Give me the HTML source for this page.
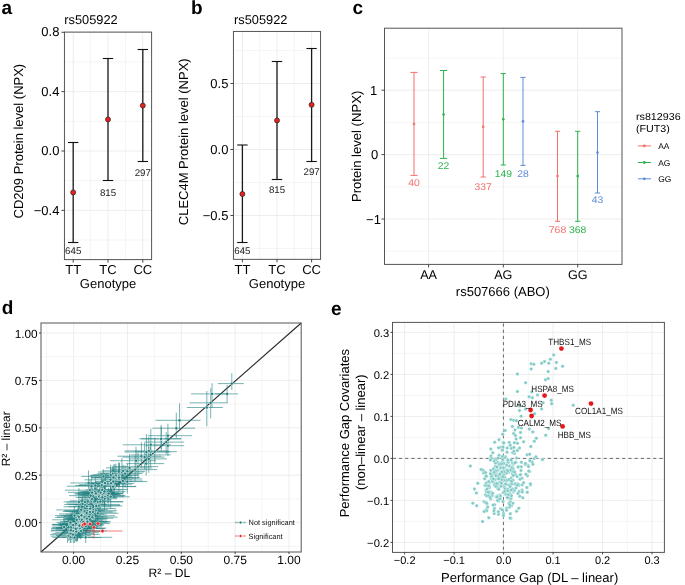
<!DOCTYPE html>
<html><head><meta charset="utf-8"><style>
html,body{margin:0;padding:0;background:#fff;}
body{width:685px;height:585px;overflow:hidden;}
svg{display:block;font-family:"Liberation Sans", sans-serif;will-change:transform;text-rendering:geometricPrecision;}
</style></head><body>
<svg width="685" height="585" viewBox="0 0 685 585">
<rect width="685" height="585" fill="#fff"/>
<text transform="translate(1.50,13.90) scale(1.0,1)" text-anchor="start" font-size="19" fill="#000" font-weight="bold">a</text>
<text transform="translate(64.30,23.50) scale(1.0,1)" text-anchor="start" font-size="12.8" fill="#000">rs505922</text>
<line x1="90.60" y1="32.10" x2="90.60" y2="259.60" stroke="#ebebeb" stroke-width="0.5"/>
<line x1="125.50" y1="32.10" x2="125.50" y2="259.60" stroke="#ebebeb" stroke-width="0.5"/>
<line x1="64.45" y1="61.96" x2="151.60" y2="61.96" stroke="#ebebeb" stroke-width="0.5"/>
<line x1="64.45" y1="121.32" x2="151.60" y2="121.32" stroke="#ebebeb" stroke-width="0.5"/>
<line x1="64.45" y1="180.68" x2="151.60" y2="180.68" stroke="#ebebeb" stroke-width="0.5"/>
<line x1="64.45" y1="240.04" x2="151.60" y2="240.04" stroke="#ebebeb" stroke-width="0.5"/>
<line x1="73.20" y1="32.10" x2="73.20" y2="259.60" stroke="#ebebeb" stroke-width="0.9"/>
<line x1="108.00" y1="32.10" x2="108.00" y2="259.60" stroke="#ebebeb" stroke-width="0.9"/>
<line x1="142.80" y1="32.10" x2="142.80" y2="259.60" stroke="#ebebeb" stroke-width="0.9"/>
<line x1="64.45" y1="32.28" x2="151.60" y2="32.28" stroke="#ebebeb" stroke-width="0.9"/>
<line x1="64.45" y1="91.64" x2="151.60" y2="91.64" stroke="#ebebeb" stroke-width="0.9"/>
<line x1="64.45" y1="151.00" x2="151.60" y2="151.00" stroke="#ebebeb" stroke-width="0.9"/>
<line x1="64.45" y1="210.36" x2="151.60" y2="210.36" stroke="#ebebeb" stroke-width="0.9"/>
<line x1="73.20" y1="142.50" x2="73.20" y2="242.50" stroke="#1a1a1a" stroke-width="1.3"/>
<line x1="68.00" y1="142.50" x2="78.40" y2="142.50" stroke="#111" stroke-width="1.1"/>
<line x1="68.00" y1="242.50" x2="78.40" y2="242.50" stroke="#111" stroke-width="1.1"/>
<circle cx="73.20" cy="192.40" r="2.5" fill="#e8221c" stroke="#222" stroke-width="0.7"/>
<text transform="translate(73.20,254.20) scale(1.0,1)" text-anchor="middle" font-size="9.7" fill="#222">645</text>
<line x1="108.00" y1="58.50" x2="108.00" y2="180.50" stroke="#1a1a1a" stroke-width="1.3"/>
<line x1="102.80" y1="58.50" x2="113.20" y2="58.50" stroke="#111" stroke-width="1.1"/>
<line x1="102.80" y1="180.50" x2="113.20" y2="180.50" stroke="#111" stroke-width="1.1"/>
<circle cx="108.00" cy="119.40" r="2.5" fill="#e8221c" stroke="#222" stroke-width="0.7"/>
<text transform="translate(108.00,195.60) scale(1.0,1)" text-anchor="middle" font-size="9.7" fill="#222">815</text>
<line x1="142.80" y1="49.50" x2="142.80" y2="161.50" stroke="#1a1a1a" stroke-width="1.3"/>
<line x1="137.60" y1="49.50" x2="148.00" y2="49.50" stroke="#111" stroke-width="1.1"/>
<line x1="137.60" y1="161.50" x2="148.00" y2="161.50" stroke="#111" stroke-width="1.1"/>
<circle cx="142.80" cy="105.60" r="2.5" fill="#e8221c" stroke="#222" stroke-width="0.7"/>
<text transform="translate(142.80,176.00) scale(1.0,1)" text-anchor="middle" font-size="9.7" fill="#222">297</text>
<rect x="64.45" y="32.10" width="87.15" height="227.50" fill="none" stroke="#555" stroke-width="1.0"/>
<line x1="61.45" y1="32.28" x2="64.45" y2="32.28" stroke="#333" stroke-width="0.9"/>
<text transform="translate(59.45,36.49) scale(1.0,1)" text-anchor="end" font-size="13.0" fill="#000">0.8</text>
<line x1="61.45" y1="91.64" x2="64.45" y2="91.64" stroke="#333" stroke-width="0.9"/>
<text transform="translate(59.45,95.85) scale(1.0,1)" text-anchor="end" font-size="13.0" fill="#000">0.4</text>
<line x1="61.45" y1="151.00" x2="64.45" y2="151.00" stroke="#333" stroke-width="0.9"/>
<text transform="translate(59.45,155.22) scale(1.0,1)" text-anchor="end" font-size="13.0" fill="#000">0.0</text>
<line x1="61.45" y1="210.36" x2="64.45" y2="210.36" stroke="#333" stroke-width="0.9"/>
<text transform="translate(59.45,214.58) scale(1.0,1)" text-anchor="end" font-size="13.0" fill="#000">−0.4</text>
<line x1="73.20" y1="259.60" x2="73.20" y2="262.60" stroke="#333" stroke-width="0.9"/>
<text transform="translate(73.20,274.00) scale(1.0,1)" text-anchor="middle" font-size="13.0" fill="#000">TT</text>
<line x1="108.00" y1="259.60" x2="108.00" y2="262.60" stroke="#333" stroke-width="0.9"/>
<text transform="translate(108.00,274.00) scale(1.0,1)" text-anchor="middle" font-size="13.0" fill="#000">TC</text>
<line x1="142.80" y1="259.60" x2="142.80" y2="262.60" stroke="#333" stroke-width="0.9"/>
<text transform="translate(142.80,274.00) scale(1.0,1)" text-anchor="middle" font-size="13.0" fill="#000">CC</text>
<text transform="translate(108.03,288.30) scale(1.0,1)" text-anchor="middle" font-size="13.0" fill="#000">Genotype</text>
<text transform="translate(23.10,141.10) rotate(-90) scale(1,1.0)" text-anchor="middle" font-size="13.0" fill="#000">CD209 Protein level (NPX)</text>
<text transform="translate(191.05,14.10) scale(1.0,1)" text-anchor="start" font-size="19" fill="#000" font-weight="bold">b</text>
<text transform="translate(234.00,23.50) scale(1.0,1)" text-anchor="start" font-size="12.8" fill="#000">rs505922</text>
<line x1="259.70" y1="31.45" x2="259.70" y2="259.35" stroke="#ebebeb" stroke-width="0.5"/>
<line x1="294.30" y1="31.45" x2="294.30" y2="259.35" stroke="#ebebeb" stroke-width="0.5"/>
<line x1="233.45" y1="50.50" x2="320.55" y2="50.50" stroke="#ebebeb" stroke-width="0.5"/>
<line x1="233.45" y1="116.50" x2="320.55" y2="116.50" stroke="#ebebeb" stroke-width="0.5"/>
<line x1="233.45" y1="182.50" x2="320.55" y2="182.50" stroke="#ebebeb" stroke-width="0.5"/>
<line x1="233.45" y1="248.50" x2="320.55" y2="248.50" stroke="#ebebeb" stroke-width="0.5"/>
<line x1="242.40" y1="31.45" x2="242.40" y2="259.35" stroke="#ebebeb" stroke-width="0.9"/>
<line x1="277.00" y1="31.45" x2="277.00" y2="259.35" stroke="#ebebeb" stroke-width="0.9"/>
<line x1="311.60" y1="31.45" x2="311.60" y2="259.35" stroke="#ebebeb" stroke-width="0.9"/>
<line x1="233.45" y1="83.50" x2="320.55" y2="83.50" stroke="#ebebeb" stroke-width="0.9"/>
<line x1="233.45" y1="149.50" x2="320.55" y2="149.50" stroke="#ebebeb" stroke-width="0.9"/>
<line x1="233.45" y1="215.50" x2="320.55" y2="215.50" stroke="#ebebeb" stroke-width="0.9"/>
<line x1="242.40" y1="145.00" x2="242.40" y2="242.50" stroke="#1a1a1a" stroke-width="1.3"/>
<line x1="237.20" y1="145.00" x2="247.60" y2="145.00" stroke="#111" stroke-width="1.1"/>
<line x1="237.20" y1="242.50" x2="247.60" y2="242.50" stroke="#111" stroke-width="1.1"/>
<circle cx="242.40" cy="194.00" r="2.5" fill="#e8221c" stroke="#222" stroke-width="0.7"/>
<text transform="translate(242.40,254.40) scale(1.0,1)" text-anchor="middle" font-size="9.7" fill="#222">645</text>
<line x1="277.00" y1="61.50" x2="277.00" y2="179.50" stroke="#1a1a1a" stroke-width="1.3"/>
<line x1="271.80" y1="61.50" x2="282.20" y2="61.50" stroke="#111" stroke-width="1.1"/>
<line x1="271.80" y1="179.50" x2="282.20" y2="179.50" stroke="#111" stroke-width="1.1"/>
<circle cx="277.00" cy="120.40" r="2.5" fill="#e8221c" stroke="#222" stroke-width="0.7"/>
<text transform="translate(277.00,193.00) scale(1.0,1)" text-anchor="middle" font-size="9.7" fill="#222">815</text>
<line x1="311.60" y1="48.50" x2="311.60" y2="161.50" stroke="#1a1a1a" stroke-width="1.3"/>
<line x1="306.40" y1="48.50" x2="316.80" y2="48.50" stroke="#111" stroke-width="1.1"/>
<line x1="306.40" y1="161.50" x2="316.80" y2="161.50" stroke="#111" stroke-width="1.1"/>
<circle cx="311.60" cy="104.80" r="2.5" fill="#e8221c" stroke="#222" stroke-width="0.7"/>
<text transform="translate(311.60,175.00) scale(1.0,1)" text-anchor="middle" font-size="9.7" fill="#222">297</text>
<rect x="233.45" y="31.45" width="87.10" height="227.90" fill="none" stroke="#555" stroke-width="1.0"/>
<line x1="230.45" y1="83.50" x2="233.45" y2="83.50" stroke="#333" stroke-width="0.9"/>
<text transform="translate(228.45,87.71) scale(1.0,1)" text-anchor="end" font-size="13.0" fill="#000">0.5</text>
<line x1="230.45" y1="149.50" x2="233.45" y2="149.50" stroke="#333" stroke-width="0.9"/>
<text transform="translate(228.45,153.72) scale(1.0,1)" text-anchor="end" font-size="13.0" fill="#000">0.0</text>
<line x1="230.45" y1="215.50" x2="233.45" y2="215.50" stroke="#333" stroke-width="0.9"/>
<text transform="translate(228.45,219.72) scale(1.0,1)" text-anchor="end" font-size="13.0" fill="#000">−0.5</text>
<line x1="242.40" y1="259.35" x2="242.40" y2="262.35" stroke="#333" stroke-width="0.9"/>
<text transform="translate(242.40,274.00) scale(1.0,1)" text-anchor="middle" font-size="13.0" fill="#000">TT</text>
<line x1="277.00" y1="259.35" x2="277.00" y2="262.35" stroke="#333" stroke-width="0.9"/>
<text transform="translate(277.00,274.00) scale(1.0,1)" text-anchor="middle" font-size="13.0" fill="#000">TC</text>
<line x1="311.60" y1="259.35" x2="311.60" y2="262.35" stroke="#333" stroke-width="0.9"/>
<text transform="translate(311.60,274.00) scale(1.0,1)" text-anchor="middle" font-size="13.0" fill="#000">CC</text>
<text transform="translate(277.00,288.30) scale(1.0,1)" text-anchor="middle" font-size="13.0" fill="#000">Genotype</text>
<text transform="translate(187.60,141.80) rotate(-90) scale(1,1.0)" text-anchor="middle" font-size="13.0" fill="#000">CLEC4M Protein level (NPX)</text>
<text transform="translate(352.50,14.00) scale(1.0,1)" text-anchor="start" font-size="19" fill="#000" font-weight="bold">c</text>
<line x1="384.50" y1="58.00" x2="622.00" y2="58.00" stroke="#ebebeb" stroke-width="0.5"/>
<line x1="384.50" y1="122.40" x2="622.00" y2="122.40" stroke="#ebebeb" stroke-width="0.5"/>
<line x1="384.50" y1="186.80" x2="622.00" y2="186.80" stroke="#ebebeb" stroke-width="0.5"/>
<line x1="384.50" y1="251.20" x2="622.00" y2="251.20" stroke="#ebebeb" stroke-width="0.5"/>
<line x1="428.60" y1="28.20" x2="428.60" y2="264.40" stroke="#ebebeb" stroke-width="0.9"/>
<line x1="503.30" y1="28.20" x2="503.30" y2="264.40" stroke="#ebebeb" stroke-width="0.9"/>
<line x1="577.70" y1="28.20" x2="577.70" y2="264.40" stroke="#ebebeb" stroke-width="0.9"/>
<line x1="384.50" y1="90.20" x2="622.00" y2="90.20" stroke="#ebebeb" stroke-width="0.9"/>
<line x1="384.50" y1="154.60" x2="622.00" y2="154.60" stroke="#ebebeb" stroke-width="0.9"/>
<line x1="384.50" y1="219.00" x2="622.00" y2="219.00" stroke="#ebebeb" stroke-width="0.9"/>
<line x1="414.00" y1="72.40" x2="414.00" y2="175.40" stroke="#F3716C" stroke-width="1.0"/>
<line x1="410.40" y1="72.40" x2="417.60" y2="72.40" stroke="#F3716C" stroke-width="1.0"/>
<line x1="410.40" y1="175.40" x2="417.60" y2="175.40" stroke="#F3716C" stroke-width="1.0"/>
<circle cx="414.00" cy="124.10" r="1.3" fill="#F3716C" stroke="none" stroke-width="0"/>
<text transform="translate(414.00,186.40) scale(1.06,1)" text-anchor="middle" font-size="9.8" fill="#F3716C">40</text>
<line x1="443.60" y1="70.50" x2="443.60" y2="158.40" stroke="#2DB34A" stroke-width="1.0"/>
<line x1="440.00" y1="70.50" x2="447.20" y2="70.50" stroke="#2DB34A" stroke-width="1.0"/>
<line x1="440.00" y1="158.40" x2="447.20" y2="158.40" stroke="#2DB34A" stroke-width="1.0"/>
<circle cx="443.60" cy="114.50" r="1.3" fill="#2DB34A" stroke="none" stroke-width="0"/>
<text transform="translate(443.60,169.40) scale(1.06,1)" text-anchor="middle" font-size="9.8" fill="#2DB34A">22</text>
<line x1="483.20" y1="77.00" x2="483.20" y2="177.00" stroke="#F3716C" stroke-width="1.0"/>
<line x1="480.60" y1="77.00" x2="485.80" y2="77.00" stroke="#F3716C" stroke-width="1.0"/>
<line x1="480.60" y1="177.00" x2="485.80" y2="177.00" stroke="#F3716C" stroke-width="1.0"/>
<circle cx="483.20" cy="126.80" r="1.3" fill="#F3716C" stroke="none" stroke-width="0"/>
<text transform="translate(483.20,190.40) scale(1.06,1)" text-anchor="middle" font-size="9.8" fill="#F3716C">337</text>
<line x1="503.30" y1="73.60" x2="503.30" y2="165.00" stroke="#2DB34A" stroke-width="1.0"/>
<line x1="500.70" y1="73.60" x2="505.90" y2="73.60" stroke="#2DB34A" stroke-width="1.0"/>
<line x1="500.70" y1="165.00" x2="505.90" y2="165.00" stroke="#2DB34A" stroke-width="1.0"/>
<circle cx="503.30" cy="119.20" r="1.3" fill="#2DB34A" stroke="none" stroke-width="0"/>
<text transform="translate(503.30,177.00) scale(1.06,1)" text-anchor="middle" font-size="9.8" fill="#2DB34A">149</text>
<line x1="523.00" y1="77.40" x2="523.00" y2="165.40" stroke="#5F8BDA" stroke-width="1.0"/>
<line x1="520.40" y1="77.40" x2="525.60" y2="77.40" stroke="#5F8BDA" stroke-width="1.0"/>
<line x1="520.40" y1="165.40" x2="525.60" y2="165.40" stroke="#5F8BDA" stroke-width="1.0"/>
<circle cx="523.00" cy="121.20" r="1.3" fill="#5F8BDA" stroke="none" stroke-width="0"/>
<text transform="translate(523.00,177.00) scale(1.06,1)" text-anchor="middle" font-size="9.8" fill="#5F8BDA">28</text>
<line x1="557.50" y1="131.30" x2="557.50" y2="221.30" stroke="#F3716C" stroke-width="1.0"/>
<line x1="554.90" y1="131.30" x2="560.10" y2="131.30" stroke="#F3716C" stroke-width="1.0"/>
<line x1="554.90" y1="221.30" x2="560.10" y2="221.30" stroke="#F3716C" stroke-width="1.0"/>
<circle cx="557.50" cy="176.10" r="1.3" fill="#F3716C" stroke="none" stroke-width="0"/>
<text transform="translate(557.50,232.60) scale(1.06,1)" text-anchor="middle" font-size="9.8" fill="#F3716C">768</text>
<line x1="577.70" y1="131.30" x2="577.70" y2="221.30" stroke="#2DB34A" stroke-width="1.0"/>
<line x1="575.10" y1="131.30" x2="580.30" y2="131.30" stroke="#2DB34A" stroke-width="1.0"/>
<line x1="575.10" y1="221.30" x2="580.30" y2="221.30" stroke="#2DB34A" stroke-width="1.0"/>
<circle cx="577.70" cy="176.10" r="1.3" fill="#2DB34A" stroke="none" stroke-width="0"/>
<text transform="translate(577.70,232.60) scale(1.06,1)" text-anchor="middle" font-size="9.8" fill="#2DB34A">368</text>
<line x1="597.50" y1="111.70" x2="597.50" y2="193.00" stroke="#5F8BDA" stroke-width="1.0"/>
<line x1="594.90" y1="111.70" x2="600.10" y2="111.70" stroke="#5F8BDA" stroke-width="1.0"/>
<line x1="594.90" y1="193.00" x2="600.10" y2="193.00" stroke="#5F8BDA" stroke-width="1.0"/>
<circle cx="597.50" cy="152.60" r="1.3" fill="#5F8BDA" stroke="none" stroke-width="0"/>
<text transform="translate(597.50,202.90) scale(1.06,1)" text-anchor="middle" font-size="9.8" fill="#5F8BDA">43</text>
<rect x="384.50" y="28.20" width="237.50" height="236.20" fill="none" stroke="#555" stroke-width="1.0"/>
<line x1="381.50" y1="90.20" x2="384.50" y2="90.20" stroke="#333" stroke-width="0.9"/>
<line x1="381.50" y1="154.60" x2="384.50" y2="154.60" stroke="#333" stroke-width="0.9"/>
<line x1="381.50" y1="219.00" x2="384.50" y2="219.00" stroke="#333" stroke-width="0.9"/>
<text transform="translate(370.11,94.81) scale(1.0,1)" text-anchor="start" font-size="13.0" fill="#000">1</text>
<text transform="translate(370.89,159.22) scale(1.0,1)" text-anchor="start" font-size="13.0" fill="#000">0</text>
<text transform="translate(366.04,223.62) scale(1.0,1)" text-anchor="start" font-size="13.0" fill="#000">−1</text>
<line x1="428.60" y1="264.40" x2="428.60" y2="267.40" stroke="#333" stroke-width="0.9"/>
<text transform="translate(428.60,279.20) scale(1.0,1)" text-anchor="middle" font-size="12.6" fill="#000">AA</text>
<line x1="503.30" y1="264.40" x2="503.30" y2="267.40" stroke="#333" stroke-width="0.9"/>
<text transform="translate(503.30,279.20) scale(1.0,1)" text-anchor="middle" font-size="12.6" fill="#000">AG</text>
<line x1="577.70" y1="264.40" x2="577.70" y2="267.40" stroke="#333" stroke-width="0.9"/>
<text transform="translate(577.70,279.20) scale(1.0,1)" text-anchor="middle" font-size="12.6" fill="#000">GG</text>
<text transform="translate(502.80,296.20) scale(1.0,1)" text-anchor="middle" font-size="13.0" fill="#000">rs507666 (ABO)</text>
<text transform="translate(361.20,146.40) rotate(-90) scale(1,1.0)" text-anchor="middle" font-size="13.1" fill="#000">Protein level (NPX)</text>
<text transform="translate(636.00,120.10) scale(1.05,1)" text-anchor="start" font-size="10.2" fill="#000">rs812936</text>
<text transform="translate(636.00,131.50) scale(1.05,1)" text-anchor="start" font-size="10.2" fill="#000">(FUT3)</text>
<line x1="637.90" y1="145.90" x2="651.00" y2="145.90" stroke="#F3716C" stroke-width="1.0"/>
<circle cx="644.30" cy="145.90" r="1.4" fill="#F3716C" stroke="none" stroke-width="0"/>
<text transform="translate(658.20,149.00) scale(1.0,1)" text-anchor="start" font-size="8.4" fill="#000">AA</text>
<line x1="637.90" y1="162.50" x2="651.00" y2="162.50" stroke="#2DB34A" stroke-width="1.0"/>
<circle cx="644.30" cy="162.50" r="1.4" fill="#2DB34A" stroke="none" stroke-width="0"/>
<text transform="translate(658.20,165.60) scale(1.0,1)" text-anchor="start" font-size="8.4" fill="#000">AG</text>
<line x1="637.90" y1="178.80" x2="651.00" y2="178.80" stroke="#5F8BDA" stroke-width="1.0"/>
<circle cx="644.30" cy="178.80" r="1.4" fill="#5F8BDA" stroke="none" stroke-width="0"/>
<text transform="translate(658.20,181.90) scale(1.0,1)" text-anchor="start" font-size="8.4" fill="#000">GG</text>
<text transform="translate(1.67,314.10) scale(1.0,1)" text-anchor="start" font-size="19" fill="#000" font-weight="bold">d</text>
<line x1="46.67" y1="323.00" x2="46.67" y2="552.00" stroke="#ebebeb" stroke-width="0.5"/>
<line x1="100.52" y1="323.00" x2="100.52" y2="552.00" stroke="#ebebeb" stroke-width="0.5"/>
<line x1="154.38" y1="323.00" x2="154.38" y2="552.00" stroke="#ebebeb" stroke-width="0.5"/>
<line x1="208.22" y1="323.00" x2="208.22" y2="552.00" stroke="#ebebeb" stroke-width="0.5"/>
<line x1="262.07" y1="323.00" x2="262.07" y2="552.00" stroke="#ebebeb" stroke-width="0.5"/>
<line x1="41.00" y1="546.30" x2="301.20" y2="546.30" stroke="#ebebeb" stroke-width="0.5"/>
<line x1="41.00" y1="498.90" x2="301.20" y2="498.90" stroke="#ebebeb" stroke-width="0.5"/>
<line x1="41.00" y1="451.50" x2="301.20" y2="451.50" stroke="#ebebeb" stroke-width="0.5"/>
<line x1="41.00" y1="404.10" x2="301.20" y2="404.10" stroke="#ebebeb" stroke-width="0.5"/>
<line x1="41.00" y1="356.70" x2="301.20" y2="356.70" stroke="#ebebeb" stroke-width="0.5"/>
<line x1="73.60" y1="323.00" x2="73.60" y2="552.00" stroke="#ebebeb" stroke-width="0.9"/>
<line x1="127.45" y1="323.00" x2="127.45" y2="552.00" stroke="#ebebeb" stroke-width="0.9"/>
<line x1="181.30" y1="323.00" x2="181.30" y2="552.00" stroke="#ebebeb" stroke-width="0.9"/>
<line x1="235.15" y1="323.00" x2="235.15" y2="552.00" stroke="#ebebeb" stroke-width="0.9"/>
<line x1="289.00" y1="323.00" x2="289.00" y2="552.00" stroke="#ebebeb" stroke-width="0.9"/>
<line x1="41.00" y1="522.60" x2="301.20" y2="522.60" stroke="#ebebeb" stroke-width="0.9"/>
<line x1="41.00" y1="475.20" x2="301.20" y2="475.20" stroke="#ebebeb" stroke-width="0.9"/>
<line x1="41.00" y1="427.80" x2="301.20" y2="427.80" stroke="#ebebeb" stroke-width="0.9"/>
<line x1="41.00" y1="380.40" x2="301.20" y2="380.40" stroke="#ebebeb" stroke-width="0.9"/>
<line x1="41.00" y1="333.00" x2="301.20" y2="333.00" stroke="#ebebeb" stroke-width="0.9"/>
<line x1="41.00" y1="552.00" x2="301.20" y2="323.00" stroke="#2a2a2a" stroke-width="1.15"/>
<line x1="217.80" y1="383.60" x2="243.80" y2="383.60" stroke="rgba(35,130,130,0.72)" stroke-width="0.85"/>
<line x1="231.80" y1="373.10" x2="231.80" y2="389.80" stroke="rgba(35,130,130,0.72)" stroke-width="0.85"/>
<line x1="215.10" y1="393.90" x2="238.10" y2="393.90" stroke="rgba(35,130,130,0.72)" stroke-width="0.85"/>
<line x1="227.10" y1="384.90" x2="227.10" y2="402.90" stroke="rgba(35,130,130,0.72)" stroke-width="0.85"/>
<line x1="191.00" y1="393.90" x2="228.00" y2="393.90" stroke="rgba(35,130,130,0.72)" stroke-width="0.85"/>
<line x1="212.00" y1="383.20" x2="212.00" y2="407.90" stroke="rgba(35,130,130,0.72)" stroke-width="0.85"/>
<line x1="189.70" y1="402.80" x2="227.70" y2="402.80" stroke="rgba(35,130,130,0.72)" stroke-width="0.85"/>
<line x1="210.70" y1="388.30" x2="210.70" y2="418.40" stroke="rgba(35,130,130,0.72)" stroke-width="0.85"/>
<line x1="186.80" y1="407.50" x2="222.80" y2="407.50" stroke="rgba(35,130,130,0.72)" stroke-width="0.85"/>
<line x1="206.80" y1="391.00" x2="206.80" y2="426.30" stroke="rgba(35,130,130,0.72)" stroke-width="0.85"/>
<line x1="155.50" y1="420.30" x2="200.50" y2="420.30" stroke="rgba(35,130,130,0.72)" stroke-width="0.85"/>
<line x1="179.50" y1="403.30" x2="179.50" y2="428.70" stroke="rgba(35,130,130,0.72)" stroke-width="0.85"/>
<line x1="152.30" y1="428.20" x2="195.30" y2="428.20" stroke="rgba(35,130,130,0.72)" stroke-width="0.85"/>
<line x1="176.30" y1="412.70" x2="176.30" y2="438.20" stroke="rgba(35,130,130,0.72)" stroke-width="0.85"/>
<line x1="147.90" y1="435.70" x2="191.90" y2="435.70" stroke="rgba(35,130,130,0.72)" stroke-width="0.85"/>
<line x1="167.90" y1="423.70" x2="167.90" y2="447.70" stroke="rgba(35,130,130,0.72)" stroke-width="0.85"/>
<line x1="139.30" y1="438.70" x2="181.30" y2="438.70" stroke="rgba(35,130,130,0.72)" stroke-width="0.85"/>
<line x1="161.30" y1="426.70" x2="161.30" y2="450.70" stroke="rgba(35,130,130,0.72)" stroke-width="0.85"/>
<line x1="141.10" y1="438.90" x2="181.10" y2="438.90" stroke="rgba(35,130,130,0.72)" stroke-width="0.85"/>
<line x1="161.10" y1="424.90" x2="161.10" y2="448.90" stroke="rgba(35,130,130,0.72)" stroke-width="0.85"/>
<line x1="144.20" y1="442.10" x2="184.20" y2="442.10" stroke="rgba(35,130,130,0.72)" stroke-width="0.85"/>
<line x1="166.20" y1="432.10" x2="166.20" y2="454.10" stroke="rgba(35,130,130,0.72)" stroke-width="0.85"/>
<line x1="145.90" y1="445.70" x2="183.90" y2="445.70" stroke="rgba(35,130,130,0.72)" stroke-width="0.85"/>
<line x1="167.90" y1="433.70" x2="167.90" y2="455.70" stroke="rgba(35,130,130,0.72)" stroke-width="0.85"/>
<line x1="122.80" y1="444.80" x2="170.80" y2="444.80" stroke="rgba(35,130,130,0.72)" stroke-width="0.85"/>
<line x1="150.80" y1="428.80" x2="150.80" y2="454.80" stroke="rgba(35,130,130,0.72)" stroke-width="0.85"/>
<line x1="134.80" y1="451.70" x2="176.80" y2="451.70" stroke="rgba(35,130,130,0.72)" stroke-width="0.85"/>
<line x1="154.80" y1="437.70" x2="154.80" y2="463.70" stroke="rgba(35,130,130,0.72)" stroke-width="0.85"/>
<line x1="124.80" y1="450.90" x2="168.80" y2="450.90" stroke="rgba(35,130,130,0.72)" stroke-width="0.85"/>
<line x1="148.80" y1="436.90" x2="148.80" y2="462.90" stroke="rgba(35,130,130,0.72)" stroke-width="0.85"/>
<line x1="124.40" y1="452.00" x2="170.40" y2="452.00" stroke="rgba(35,130,130,0.72)" stroke-width="0.85"/>
<line x1="146.40" y1="434.00" x2="146.40" y2="462.00" stroke="rgba(35,130,130,0.72)" stroke-width="0.85"/>
<line x1="130.60" y1="454.90" x2="170.60" y2="454.90" stroke="rgba(35,130,130,0.72)" stroke-width="0.85"/>
<line x1="150.60" y1="442.90" x2="150.60" y2="466.90" stroke="rgba(35,130,130,0.72)" stroke-width="0.85"/>
<line x1="117.40" y1="456.20" x2="161.40" y2="456.20" stroke="rgba(35,130,130,0.72)" stroke-width="0.85"/>
<line x1="141.40" y1="442.20" x2="141.40" y2="468.20" stroke="rgba(35,130,130,0.72)" stroke-width="0.85"/>
<line x1="122.60" y1="457.10" x2="164.60" y2="457.10" stroke="rgba(35,130,130,0.72)" stroke-width="0.85"/>
<line x1="144.60" y1="443.10" x2="144.60" y2="469.10" stroke="rgba(35,130,130,0.72)" stroke-width="0.85"/>
<line x1="128.80" y1="458.90" x2="166.80" y2="458.90" stroke="rgba(35,130,130,0.72)" stroke-width="0.85"/>
<line x1="148.80" y1="446.90" x2="148.80" y2="472.90" stroke="rgba(35,130,130,0.72)" stroke-width="0.85"/>
<line x1="110.00" y1="460.70" x2="156.00" y2="460.70" stroke="rgba(35,130,130,0.72)" stroke-width="0.85"/>
<line x1="136.00" y1="446.70" x2="136.00" y2="472.70" stroke="rgba(35,130,130,0.72)" stroke-width="0.85"/>
<line x1="126.20" y1="463.60" x2="164.20" y2="463.60" stroke="rgba(35,130,130,0.72)" stroke-width="0.85"/>
<line x1="146.20" y1="451.60" x2="146.20" y2="475.60" stroke="rgba(35,130,130,0.72)" stroke-width="0.85"/>
<line x1="114.00" y1="466.60" x2="158.00" y2="466.60" stroke="rgba(35,130,130,0.72)" stroke-width="0.85"/>
<line x1="138.00" y1="452.60" x2="138.00" y2="478.60" stroke="rgba(35,130,130,0.72)" stroke-width="0.85"/>
<line x1="111.10" y1="469.60" x2="157.10" y2="469.60" stroke="rgba(35,130,130,0.72)" stroke-width="0.85"/>
<line x1="135.10" y1="455.60" x2="135.10" y2="481.60" stroke="rgba(35,130,130,0.72)" stroke-width="0.85"/>
<line x1="97.90" y1="472.00" x2="143.90" y2="472.00" stroke="rgba(35,130,130,0.72)" stroke-width="0.85"/>
<line x1="121.90" y1="458.00" x2="121.90" y2="484.00" stroke="rgba(35,130,130,0.72)" stroke-width="0.85"/>
<line x1="89.90" y1="475.60" x2="137.90" y2="475.60" stroke="rgba(35,130,130,0.72)" stroke-width="0.85"/>
<line x1="115.90" y1="463.60" x2="115.90" y2="489.60" stroke="rgba(35,130,130,0.72)" stroke-width="0.85"/>
<line x1="93.30" y1="474.80" x2="139.30" y2="474.80" stroke="rgba(35,130,130,0.72)" stroke-width="0.85"/>
<line x1="119.30" y1="462.80" x2="119.30" y2="486.80" stroke="rgba(35,130,130,0.72)" stroke-width="0.85"/>
<line x1="90.70" y1="478.00" x2="136.70" y2="478.00" stroke="rgba(35,130,130,0.72)" stroke-width="0.85"/>
<line x1="114.70" y1="464.00" x2="114.70" y2="490.00" stroke="rgba(35,130,130,0.72)" stroke-width="0.85"/>
<line x1="84.50" y1="479.80" x2="132.50" y2="479.80" stroke="rgba(35,130,130,0.72)" stroke-width="0.85"/>
<line x1="110.50" y1="467.80" x2="110.50" y2="491.80" stroke="rgba(35,130,130,0.72)" stroke-width="0.85"/>
<line x1="100.90" y1="481.00" x2="142.90" y2="481.00" stroke="rgba(35,130,130,0.72)" stroke-width="0.85"/>
<line x1="122.90" y1="469.00" x2="122.90" y2="493.00" stroke="rgba(35,130,130,0.72)" stroke-width="0.85"/>
<line x1="105.30" y1="481.60" x2="147.30" y2="481.60" stroke="rgba(35,130,130,0.72)" stroke-width="0.85"/>
<line x1="127.30" y1="469.60" x2="127.30" y2="493.60" stroke="rgba(35,130,130,0.72)" stroke-width="0.85"/>
<line x1="88.30" y1="483.40" x2="134.30" y2="483.40" stroke="rgba(35,130,130,0.72)" stroke-width="0.85"/>
<line x1="112.30" y1="471.40" x2="112.30" y2="495.40" stroke="rgba(35,130,130,0.72)" stroke-width="0.85"/>
<line x1="92.10" y1="486.40" x2="136.10" y2="486.40" stroke="rgba(35,130,130,0.72)" stroke-width="0.85"/>
<line x1="114.10" y1="474.40" x2="114.10" y2="498.40" stroke="rgba(35,130,130,0.72)" stroke-width="0.85"/>
<line x1="62.18" y1="524.71" x2="91.80" y2="524.71" stroke="rgba(35,130,130,0.72)" stroke-width="0.85"/>
<line x1="73.17" y1="520.37" x2="73.17" y2="532.61" stroke="rgba(35,130,130,0.72)" stroke-width="0.85"/>
<line x1="61.15" y1="530.81" x2="87.05" y2="530.81" stroke="rgba(35,130,130,0.72)" stroke-width="0.85"/>
<line x1="73.26" y1="521.16" x2="73.26" y2="543.00" stroke="rgba(35,130,130,0.72)" stroke-width="0.85"/>
<line x1="78.01" y1="500.24" x2="110.97" y2="500.24" stroke="rgba(35,130,130,0.72)" stroke-width="0.85"/>
<line x1="91.09" y1="490.49" x2="91.09" y2="507.59" stroke="rgba(35,130,130,0.72)" stroke-width="0.85"/>
<line x1="86.52" y1="495.50" x2="125.35" y2="495.50" stroke="rgba(35,130,130,0.72)" stroke-width="0.85"/>
<line x1="108.08" y1="488.67" x2="108.08" y2="504.77" stroke="rgba(35,130,130,0.72)" stroke-width="0.85"/>
<line x1="59.63" y1="525.15" x2="103.44" y2="525.15" stroke="rgba(35,130,130,0.72)" stroke-width="0.85"/>
<line x1="78.56" y1="514.59" x2="78.56" y2="531.74" stroke="rgba(35,130,130,0.72)" stroke-width="0.85"/>
<line x1="88.26" y1="505.63" x2="120.29" y2="505.63" stroke="rgba(35,130,130,0.72)" stroke-width="0.85"/>
<line x1="98.93" y1="494.74" x2="98.93" y2="514.78" stroke="rgba(35,130,130,0.72)" stroke-width="0.85"/>
<line x1="77.58" y1="510.39" x2="116.93" y2="510.39" stroke="rgba(35,130,130,0.72)" stroke-width="0.85"/>
<line x1="95.64" y1="505.85" x2="95.64" y2="520.71" stroke="rgba(35,130,130,0.72)" stroke-width="0.85"/>
<line x1="68.45" y1="506.64" x2="96.69" y2="506.64" stroke="rgba(35,130,130,0.72)" stroke-width="0.85"/>
<line x1="78.84" y1="501.13" x2="78.84" y2="511.69" stroke="rgba(35,130,130,0.72)" stroke-width="0.85"/>
<line x1="58.56" y1="524.00" x2="87.57" y2="524.00" stroke="rgba(35,130,130,0.72)" stroke-width="0.85"/>
<line x1="69.93" y1="515.05" x2="69.93" y2="535.95" stroke="rgba(35,130,130,0.72)" stroke-width="0.85"/>
<line x1="88.59" y1="496.79" x2="129.72" y2="496.79" stroke="rgba(35,130,130,0.72)" stroke-width="0.85"/>
<line x1="104.69" y1="484.17" x2="104.69" y2="502.15" stroke="rgba(35,130,130,0.72)" stroke-width="0.85"/>
<line x1="68.20" y1="519.41" x2="95.39" y2="519.41" stroke="rgba(35,130,130,0.72)" stroke-width="0.85"/>
<line x1="78.27" y1="512.09" x2="78.27" y2="528.51" stroke="rgba(35,130,130,0.72)" stroke-width="0.85"/>
<line x1="52.69" y1="527.99" x2="97.54" y2="527.99" stroke="rgba(35,130,130,0.72)" stroke-width="0.85"/>
<line x1="73.97" y1="520.46" x2="73.97" y2="535.58" stroke="rgba(35,130,130,0.72)" stroke-width="0.85"/>
<line x1="90.95" y1="494.05" x2="111.84" y2="494.05" stroke="rgba(35,130,130,0.72)" stroke-width="0.85"/>
<line x1="101.84" y1="488.69" x2="101.84" y2="498.97" stroke="rgba(35,130,130,0.72)" stroke-width="0.85"/>
<line x1="66.92" y1="530.17" x2="93.73" y2="530.17" stroke="rgba(35,130,130,0.72)" stroke-width="0.85"/>
<line x1="79.45" y1="523.04" x2="79.45" y2="537.45" stroke="rgba(35,130,130,0.72)" stroke-width="0.85"/>
<line x1="65.70" y1="528.66" x2="104.29" y2="528.66" stroke="rgba(35,130,130,0.72)" stroke-width="0.85"/>
<line x1="80.20" y1="523.21" x2="80.20" y2="532.87" stroke="rgba(35,130,130,0.72)" stroke-width="0.85"/>
<line x1="68.67" y1="504.46" x2="119.98" y2="504.46" stroke="rgba(35,130,130,0.72)" stroke-width="0.85"/>
<line x1="95.30" y1="494.19" x2="95.30" y2="510.81" stroke="rgba(35,130,130,0.72)" stroke-width="0.85"/>
<line x1="64.39" y1="526.72" x2="101.97" y2="526.72" stroke="rgba(35,130,130,0.72)" stroke-width="0.85"/>
<line x1="78.18" y1="513.86" x2="78.18" y2="538.39" stroke="rgba(35,130,130,0.72)" stroke-width="0.85"/>
<line x1="64.17" y1="510.49" x2="99.01" y2="510.49" stroke="rgba(35,130,130,0.72)" stroke-width="0.85"/>
<line x1="82.97" y1="506.23" x2="82.97" y2="514.74" stroke="rgba(35,130,130,0.72)" stroke-width="0.85"/>
<line x1="52.32" y1="527.06" x2="90.31" y2="527.06" stroke="rgba(35,130,130,0.72)" stroke-width="0.85"/>
<line x1="64.07" y1="519.78" x2="64.07" y2="533.05" stroke="rgba(35,130,130,0.72)" stroke-width="0.85"/>
<line x1="56.38" y1="528.24" x2="98.82" y2="528.24" stroke="rgba(35,130,130,0.72)" stroke-width="0.85"/>
<line x1="80.67" y1="518.36" x2="80.67" y2="539.44" stroke="rgba(35,130,130,0.72)" stroke-width="0.85"/>
<line x1="57.25" y1="537.13" x2="93.70" y2="537.13" stroke="rgba(35,130,130,0.72)" stroke-width="0.85"/>
<line x1="70.28" y1="530.13" x2="70.28" y2="543.00" stroke="rgba(35,130,130,0.72)" stroke-width="0.85"/>
<line x1="59.99" y1="524.40" x2="84.72" y2="524.40" stroke="rgba(35,130,130,0.72)" stroke-width="0.85"/>
<line x1="72.15" y1="512.26" x2="72.15" y2="535.66" stroke="rgba(35,130,130,0.72)" stroke-width="0.85"/>
<line x1="51.70" y1="524.57" x2="100.38" y2="524.57" stroke="rgba(35,130,130,0.72)" stroke-width="0.85"/>
<line x1="79.34" y1="515.84" x2="79.34" y2="536.98" stroke="rgba(35,130,130,0.72)" stroke-width="0.85"/>
<line x1="85.73" y1="492.67" x2="114.80" y2="492.67" stroke="rgba(35,130,130,0.72)" stroke-width="0.85"/>
<line x1="100.71" y1="483.39" x2="100.71" y2="499.00" stroke="rgba(35,130,130,0.72)" stroke-width="0.85"/>
<line x1="63.41" y1="516.59" x2="107.54" y2="516.59" stroke="rgba(35,130,130,0.72)" stroke-width="0.85"/>
<line x1="89.01" y1="507.80" x2="89.01" y2="525.30" stroke="rgba(35,130,130,0.72)" stroke-width="0.85"/>
<line x1="50.65" y1="536.14" x2="83.04" y2="536.14" stroke="rgba(35,130,130,0.72)" stroke-width="0.85"/>
<line x1="67.50" y1="527.48" x2="67.50" y2="543.00" stroke="rgba(35,130,130,0.72)" stroke-width="0.85"/>
<line x1="60.30" y1="524.25" x2="102.77" y2="524.25" stroke="rgba(35,130,130,0.72)" stroke-width="0.85"/>
<line x1="79.85" y1="512.04" x2="79.85" y2="532.24" stroke="rgba(35,130,130,0.72)" stroke-width="0.85"/>
<line x1="62.83" y1="511.54" x2="99.58" y2="511.54" stroke="rgba(35,130,130,0.72)" stroke-width="0.85"/>
<line x1="80.52" y1="503.24" x2="80.52" y2="524.02" stroke="rgba(35,130,130,0.72)" stroke-width="0.85"/>
<line x1="78.27" y1="509.64" x2="107.86" y2="509.64" stroke="rgba(35,130,130,0.72)" stroke-width="0.85"/>
<line x1="90.34" y1="504.99" x2="90.34" y2="515.80" stroke="rgba(35,130,130,0.72)" stroke-width="0.85"/>
<line x1="56.05" y1="535.53" x2="90.85" y2="535.53" stroke="rgba(35,130,130,0.72)" stroke-width="0.85"/>
<line x1="68.68" y1="525.59" x2="68.68" y2="540.82" stroke="rgba(35,130,130,0.72)" stroke-width="0.85"/>
<line x1="67.97" y1="492.36" x2="118.95" y2="492.36" stroke="rgba(35,130,130,0.72)" stroke-width="0.85"/>
<line x1="94.80" y1="486.91" x2="94.80" y2="500.25" stroke="rgba(35,130,130,0.72)" stroke-width="0.85"/>
<line x1="73.79" y1="504.54" x2="106.40" y2="504.54" stroke="rgba(35,130,130,0.72)" stroke-width="0.85"/>
<line x1="96.07" y1="495.55" x2="96.07" y2="512.50" stroke="rgba(35,130,130,0.72)" stroke-width="0.85"/>
<line x1="62.27" y1="537.29" x2="112.20" y2="537.29" stroke="rgba(35,130,130,0.72)" stroke-width="0.85"/>
<line x1="85.68" y1="532.35" x2="85.68" y2="543.00" stroke="rgba(35,130,130,0.72)" stroke-width="0.85"/>
<line x1="63.89" y1="530.90" x2="106.57" y2="530.90" stroke="rgba(35,130,130,0.72)" stroke-width="0.85"/>
<line x1="81.07" y1="519.52" x2="81.07" y2="537.22" stroke="rgba(35,130,130,0.72)" stroke-width="0.85"/>
<line x1="55.68" y1="529.04" x2="94.61" y2="529.04" stroke="rgba(35,130,130,0.72)" stroke-width="0.85"/>
<line x1="77.38" y1="524.38" x2="77.38" y2="541.48" stroke="rgba(35,130,130,0.72)" stroke-width="0.85"/>
<line x1="88.23" y1="495.20" x2="124.03" y2="495.20" stroke="rgba(35,130,130,0.72)" stroke-width="0.85"/>
<line x1="99.37" y1="487.11" x2="99.37" y2="502.25" stroke="rgba(35,130,130,0.72)" stroke-width="0.85"/>
<line x1="74.91" y1="506.11" x2="99.52" y2="506.11" stroke="rgba(35,130,130,0.72)" stroke-width="0.85"/>
<line x1="86.77" y1="501.66" x2="86.77" y2="511.93" stroke="rgba(35,130,130,0.72)" stroke-width="0.85"/>
<line x1="57.27" y1="527.83" x2="88.80" y2="527.83" stroke="rgba(35,130,130,0.72)" stroke-width="0.85"/>
<line x1="75.77" y1="520.70" x2="75.77" y2="531.99" stroke="rgba(35,130,130,0.72)" stroke-width="0.85"/>
<line x1="75.50" y1="497.30" x2="116.77" y2="497.30" stroke="rgba(35,130,130,0.72)" stroke-width="0.85"/>
<line x1="99.42" y1="488.84" x2="99.42" y2="508.81" stroke="rgba(35,130,130,0.72)" stroke-width="0.85"/>
<line x1="62.39" y1="523.60" x2="102.36" y2="523.60" stroke="rgba(35,130,130,0.72)" stroke-width="0.85"/>
<line x1="78.21" y1="513.24" x2="78.21" y2="533.33" stroke="rgba(35,130,130,0.72)" stroke-width="0.85"/>
<line x1="90.23" y1="498.73" x2="117.35" y2="498.73" stroke="rgba(35,130,130,0.72)" stroke-width="0.85"/>
<line x1="104.57" y1="493.97" x2="104.57" y2="510.30" stroke="rgba(35,130,130,0.72)" stroke-width="0.85"/>
<line x1="87.90" y1="494.48" x2="120.70" y2="494.48" stroke="rgba(35,130,130,0.72)" stroke-width="0.85"/>
<line x1="102.89" y1="489.06" x2="102.89" y2="502.49" stroke="rgba(35,130,130,0.72)" stroke-width="0.85"/>
<line x1="72.59" y1="515.68" x2="99.10" y2="515.68" stroke="rgba(35,130,130,0.72)" stroke-width="0.85"/>
<line x1="82.61" y1="507.41" x2="82.61" y2="524.21" stroke="rgba(35,130,130,0.72)" stroke-width="0.85"/>
<line x1="82.66" y1="510.18" x2="103.75" y2="510.18" stroke="rgba(35,130,130,0.72)" stroke-width="0.85"/>
<line x1="93.37" y1="503.44" x2="93.37" y2="516.27" stroke="rgba(35,130,130,0.72)" stroke-width="0.85"/>
<line x1="62.71" y1="519.79" x2="94.87" y2="519.79" stroke="rgba(35,130,130,0.72)" stroke-width="0.85"/>
<line x1="79.33" y1="506.93" x2="79.33" y2="525.13" stroke="rgba(35,130,130,0.72)" stroke-width="0.85"/>
<line x1="64.81" y1="490.18" x2="110.64" y2="490.18" stroke="rgba(35,130,130,0.72)" stroke-width="0.85"/>
<line x1="89.97" y1="479.57" x2="89.97" y2="501.49" stroke="rgba(35,130,130,0.72)" stroke-width="0.85"/>
<line x1="59.95" y1="528.24" x2="105.06" y2="528.24" stroke="rgba(35,130,130,0.72)" stroke-width="0.85"/>
<line x1="79.88" y1="518.10" x2="79.88" y2="538.48" stroke="rgba(35,130,130,0.72)" stroke-width="0.85"/>
<line x1="54.94" y1="515.57" x2="95.11" y2="515.57" stroke="rgba(35,130,130,0.72)" stroke-width="0.85"/>
<line x1="74.43" y1="505.94" x2="74.43" y2="525.70" stroke="rgba(35,130,130,0.72)" stroke-width="0.85"/>
<line x1="52.78" y1="524.30" x2="82.78" y2="524.30" stroke="rgba(35,130,130,0.72)" stroke-width="0.85"/>
<line x1="71.65" y1="513.67" x2="71.65" y2="530.57" stroke="rgba(35,130,130,0.72)" stroke-width="0.85"/>
<line x1="59.02" y1="513.99" x2="104.00" y2="513.99" stroke="rgba(35,130,130,0.72)" stroke-width="0.85"/>
<line x1="85.60" y1="506.55" x2="85.60" y2="522.30" stroke="rgba(35,130,130,0.72)" stroke-width="0.85"/>
<line x1="75.68" y1="511.96" x2="112.64" y2="511.96" stroke="rgba(35,130,130,0.72)" stroke-width="0.85"/>
<line x1="90.00" y1="505.22" x2="90.00" y2="521.07" stroke="rgba(35,130,130,0.72)" stroke-width="0.85"/>
<line x1="63.39" y1="527.38" x2="97.11" y2="527.38" stroke="rgba(35,130,130,0.72)" stroke-width="0.85"/>
<line x1="78.33" y1="519.19" x2="78.33" y2="535.57" stroke="rgba(35,130,130,0.72)" stroke-width="0.85"/>
<line x1="63.82" y1="521.66" x2="105.56" y2="521.66" stroke="rgba(35,130,130,0.72)" stroke-width="0.85"/>
<line x1="81.62" y1="508.94" x2="81.62" y2="529.70" stroke="rgba(35,130,130,0.72)" stroke-width="0.85"/>
<line x1="59.17" y1="524.82" x2="104.28" y2="524.82" stroke="rgba(35,130,130,0.72)" stroke-width="0.85"/>
<line x1="78.08" y1="519.62" x2="78.08" y2="536.20" stroke="rgba(35,130,130,0.72)" stroke-width="0.85"/>
<line x1="76.25" y1="520.63" x2="96.74" y2="520.63" stroke="rgba(35,130,130,0.72)" stroke-width="0.85"/>
<line x1="86.67" y1="512.20" x2="86.67" y2="528.69" stroke="rgba(35,130,130,0.72)" stroke-width="0.85"/>
<line x1="55.11" y1="517.46" x2="89.43" y2="517.46" stroke="rgba(35,130,130,0.72)" stroke-width="0.85"/>
<line x1="79.40" y1="506.71" x2="79.40" y2="529.01" stroke="rgba(35,130,130,0.72)" stroke-width="0.85"/>
<line x1="55.19" y1="532.67" x2="98.85" y2="532.67" stroke="rgba(35,130,130,0.72)" stroke-width="0.85"/>
<line x1="71.87" y1="523.37" x2="71.87" y2="539.92" stroke="rgba(35,130,130,0.72)" stroke-width="0.85"/>
<line x1="78.10" y1="497.35" x2="117.15" y2="497.35" stroke="rgba(35,130,130,0.72)" stroke-width="0.85"/>
<line x1="102.29" y1="484.93" x2="102.29" y2="503.60" stroke="rgba(35,130,130,0.72)" stroke-width="0.85"/>
<line x1="74.02" y1="513.29" x2="118.55" y2="513.29" stroke="rgba(35,130,130,0.72)" stroke-width="0.85"/>
<line x1="97.83" y1="501.07" x2="97.83" y2="525.76" stroke="rgba(35,130,130,0.72)" stroke-width="0.85"/>
<line x1="77.83" y1="494.48" x2="118.29" y2="494.48" stroke="rgba(35,130,130,0.72)" stroke-width="0.85"/>
<line x1="95.49" y1="484.68" x2="95.49" y2="501.06" stroke="rgba(35,130,130,0.72)" stroke-width="0.85"/>
<line x1="52.10" y1="525.21" x2="102.12" y2="525.21" stroke="rgba(35,130,130,0.72)" stroke-width="0.85"/>
<line x1="75.53" y1="518.87" x2="75.53" y2="535.12" stroke="rgba(35,130,130,0.72)" stroke-width="0.85"/>
<line x1="84.32" y1="501.95" x2="123.26" y2="501.95" stroke="rgba(35,130,130,0.72)" stroke-width="0.85"/>
<line x1="97.85" y1="493.47" x2="97.85" y2="507.93" stroke="rgba(35,130,130,0.72)" stroke-width="0.85"/>
<line x1="82.83" y1="496.02" x2="110.20" y2="496.02" stroke="rgba(35,130,130,0.72)" stroke-width="0.85"/>
<line x1="98.65" y1="489.87" x2="98.65" y2="502.34" stroke="rgba(35,130,130,0.72)" stroke-width="0.85"/>
<line x1="66.88" y1="520.26" x2="102.83" y2="520.26" stroke="rgba(35,130,130,0.72)" stroke-width="0.85"/>
<line x1="83.92" y1="512.87" x2="83.92" y2="527.31" stroke="rgba(35,130,130,0.72)" stroke-width="0.85"/>
<line x1="61.38" y1="532.53" x2="90.21" y2="532.53" stroke="rgba(35,130,130,0.72)" stroke-width="0.85"/>
<line x1="75.99" y1="524.94" x2="75.99" y2="540.55" stroke="rgba(35,130,130,0.72)" stroke-width="0.85"/>
<line x1="52.67" y1="533.67" x2="94.05" y2="533.67" stroke="rgba(35,130,130,0.72)" stroke-width="0.85"/>
<line x1="69.51" y1="520.92" x2="69.51" y2="539.91" stroke="rgba(35,130,130,0.72)" stroke-width="0.85"/>
<line x1="50.65" y1="530.88" x2="90.75" y2="530.88" stroke="rgba(35,130,130,0.72)" stroke-width="0.85"/>
<line x1="72.97" y1="521.91" x2="72.97" y2="535.23" stroke="rgba(35,130,130,0.72)" stroke-width="0.85"/>
<line x1="56.30" y1="527.46" x2="82.75" y2="527.46" stroke="rgba(35,130,130,0.72)" stroke-width="0.85"/>
<line x1="68.47" y1="517.74" x2="68.47" y2="537.75" stroke="rgba(35,130,130,0.72)" stroke-width="0.85"/>
<line x1="71.94" y1="510.98" x2="104.90" y2="510.98" stroke="rgba(35,130,130,0.72)" stroke-width="0.85"/>
<line x1="87.07" y1="498.35" x2="87.07" y2="520.79" stroke="rgba(35,130,130,0.72)" stroke-width="0.85"/>
<line x1="63.36" y1="519.08" x2="103.30" y2="519.08" stroke="rgba(35,130,130,0.72)" stroke-width="0.85"/>
<line x1="81.84" y1="511.30" x2="81.84" y2="525.40" stroke="rgba(35,130,130,0.72)" stroke-width="0.85"/>
<line x1="69.73" y1="500.85" x2="104.70" y2="500.85" stroke="rgba(35,130,130,0.72)" stroke-width="0.85"/>
<line x1="91.33" y1="489.67" x2="91.33" y2="511.50" stroke="rgba(35,130,130,0.72)" stroke-width="0.85"/>
<line x1="81.26" y1="505.96" x2="122.46" y2="505.96" stroke="rgba(35,130,130,0.72)" stroke-width="0.85"/>
<line x1="96.28" y1="497.49" x2="96.28" y2="511.64" stroke="rgba(35,130,130,0.72)" stroke-width="0.85"/>
<line x1="66.15" y1="528.19" x2="106.33" y2="528.19" stroke="rgba(35,130,130,0.72)" stroke-width="0.85"/>
<line x1="79.77" y1="522.92" x2="79.77" y2="532.66" stroke="rgba(35,130,130,0.72)" stroke-width="0.85"/>
<line x1="52.44" y1="537.58" x2="101.56" y2="537.58" stroke="rgba(35,130,130,0.72)" stroke-width="0.85"/>
<line x1="74.60" y1="525.20" x2="74.60" y2="543.00" stroke="rgba(35,130,130,0.72)" stroke-width="0.85"/>
<line x1="60.88" y1="533.55" x2="85.69" y2="533.55" stroke="rgba(35,130,130,0.72)" stroke-width="0.85"/>
<line x1="70.93" y1="526.39" x2="70.93" y2="543.00" stroke="rgba(35,130,130,0.72)" stroke-width="0.85"/>
<line x1="59.77" y1="521.61" x2="107.71" y2="521.61" stroke="rgba(35,130,130,0.72)" stroke-width="0.85"/>
<line x1="83.73" y1="513.72" x2="83.73" y2="526.05" stroke="rgba(35,130,130,0.72)" stroke-width="0.85"/>
<line x1="69.15" y1="511.99" x2="115.99" y2="511.99" stroke="rgba(35,130,130,0.72)" stroke-width="0.85"/>
<line x1="92.95" y1="507.62" x2="92.95" y2="516.30" stroke="rgba(35,130,130,0.72)" stroke-width="0.85"/>
<line x1="51.15" y1="528.09" x2="93.21" y2="528.09" stroke="rgba(35,130,130,0.72)" stroke-width="0.85"/>
<line x1="77.45" y1="521.64" x2="77.45" y2="540.71" stroke="rgba(35,130,130,0.72)" stroke-width="0.85"/>
<line x1="67.11" y1="518.20" x2="113.46" y2="518.20" stroke="rgba(35,130,130,0.72)" stroke-width="0.85"/>
<line x1="92.69" y1="505.71" x2="92.69" y2="522.42" stroke="rgba(35,130,130,0.72)" stroke-width="0.85"/>
<line x1="63.71" y1="521.40" x2="99.41" y2="521.40" stroke="rgba(35,130,130,0.72)" stroke-width="0.85"/>
<line x1="81.02" y1="509.04" x2="81.02" y2="527.04" stroke="rgba(35,130,130,0.72)" stroke-width="0.85"/>
<line x1="66.13" y1="514.18" x2="97.72" y2="514.18" stroke="rgba(35,130,130,0.72)" stroke-width="0.85"/>
<line x1="81.56" y1="503.14" x2="81.56" y2="518.89" stroke="rgba(35,130,130,0.72)" stroke-width="0.85"/>
<line x1="68.70" y1="518.83" x2="98.67" y2="518.83" stroke="rgba(35,130,130,0.72)" stroke-width="0.85"/>
<line x1="79.27" y1="511.89" x2="79.27" y2="531.65" stroke="rgba(35,130,130,0.72)" stroke-width="0.85"/>
<line x1="83.04" y1="493.41" x2="122.71" y2="493.41" stroke="rgba(35,130,130,0.72)" stroke-width="0.85"/>
<line x1="105.11" y1="487.31" x2="105.11" y2="501.17" stroke="rgba(35,130,130,0.72)" stroke-width="0.85"/>
<line x1="65.28" y1="518.56" x2="98.64" y2="518.56" stroke="rgba(35,130,130,0.72)" stroke-width="0.85"/>
<line x1="86.58" y1="506.99" x2="86.58" y2="525.20" stroke="rgba(35,130,130,0.72)" stroke-width="0.85"/>
<line x1="69.22" y1="519.95" x2="106.86" y2="519.95" stroke="rgba(35,130,130,0.72)" stroke-width="0.85"/>
<line x1="81.83" y1="510.75" x2="81.83" y2="526.89" stroke="rgba(35,130,130,0.72)" stroke-width="0.85"/>
<line x1="63.21" y1="518.70" x2="108.06" y2="518.70" stroke="rgba(35,130,130,0.72)" stroke-width="0.85"/>
<line x1="86.96" y1="505.78" x2="86.96" y2="523.62" stroke="rgba(35,130,130,0.72)" stroke-width="0.85"/>
<line x1="70.19" y1="526.28" x2="95.44" y2="526.28" stroke="rgba(35,130,130,0.72)" stroke-width="0.85"/>
<line x1="82.22" y1="513.52" x2="82.22" y2="535.53" stroke="rgba(35,130,130,0.72)" stroke-width="0.85"/>
<line x1="65.60" y1="525.45" x2="95.57" y2="525.45" stroke="rgba(35,130,130,0.72)" stroke-width="0.85"/>
<line x1="79.30" y1="520.18" x2="79.30" y2="531.28" stroke="rgba(35,130,130,0.72)" stroke-width="0.85"/>
<line x1="60.76" y1="526.87" x2="95.44" y2="526.87" stroke="rgba(35,130,130,0.72)" stroke-width="0.85"/>
<line x1="82.30" y1="520.06" x2="82.30" y2="532.70" stroke="rgba(35,130,130,0.72)" stroke-width="0.85"/>
<line x1="85.48" y1="489.92" x2="121.55" y2="489.92" stroke="rgba(35,130,130,0.72)" stroke-width="0.85"/>
<line x1="102.20" y1="480.17" x2="102.20" y2="494.74" stroke="rgba(35,130,130,0.72)" stroke-width="0.85"/>
<line x1="57.91" y1="525.10" x2="92.85" y2="525.10" stroke="rgba(35,130,130,0.72)" stroke-width="0.85"/>
<line x1="73.22" y1="517.89" x2="73.22" y2="532.85" stroke="rgba(35,130,130,0.72)" stroke-width="0.85"/>
<line x1="88.35" y1="496.75" x2="124.19" y2="496.75" stroke="rgba(35,130,130,0.72)" stroke-width="0.85"/>
<line x1="110.72" y1="492.69" x2="110.72" y2="508.86" stroke="rgba(35,130,130,0.72)" stroke-width="0.85"/>
<line x1="71.49" y1="514.94" x2="101.12" y2="514.94" stroke="rgba(35,130,130,0.72)" stroke-width="0.85"/>
<line x1="81.74" y1="505.18" x2="81.74" y2="527.13" stroke="rgba(35,130,130,0.72)" stroke-width="0.85"/>
<line x1="64.42" y1="528.48" x2="91.71" y2="528.48" stroke="rgba(35,130,130,0.72)" stroke-width="0.85"/>
<line x1="76.90" y1="519.79" x2="76.90" y2="540.81" stroke="rgba(35,130,130,0.72)" stroke-width="0.85"/>
<line x1="50.22" y1="534.58" x2="99.55" y2="534.58" stroke="rgba(35,130,130,0.72)" stroke-width="0.85"/>
<line x1="72.97" y1="526.23" x2="72.97" y2="539.06" stroke="rgba(35,130,130,0.72)" stroke-width="0.85"/>
<line x1="70.56" y1="521.95" x2="106.64" y2="521.95" stroke="rgba(35,130,130,0.72)" stroke-width="0.85"/>
<line x1="83.28" y1="515.95" x2="83.28" y2="529.59" stroke="rgba(35,130,130,0.72)" stroke-width="0.85"/>
<line x1="77.58" y1="492.98" x2="106.20" y2="492.98" stroke="rgba(35,130,130,0.72)" stroke-width="0.85"/>
<line x1="94.11" y1="486.75" x2="94.11" y2="503.50" stroke="rgba(35,130,130,0.72)" stroke-width="0.85"/>
<line x1="91.95" y1="492.94" x2="124.14" y2="492.94" stroke="rgba(35,130,130,0.72)" stroke-width="0.85"/>
<line x1="103.95" y1="483.99" x2="103.95" y2="502.58" stroke="rgba(35,130,130,0.72)" stroke-width="0.85"/>
<line x1="58.44" y1="523.59" x2="86.29" y2="523.59" stroke="rgba(35,130,130,0.72)" stroke-width="0.85"/>
<line x1="75.89" y1="514.02" x2="75.89" y2="532.00" stroke="rgba(35,130,130,0.72)" stroke-width="0.85"/>
<line x1="56.40" y1="530.41" x2="87.49" y2="530.41" stroke="rgba(35,130,130,0.72)" stroke-width="0.85"/>
<line x1="69.45" y1="525.45" x2="69.45" y2="535.57" stroke="rgba(35,130,130,0.72)" stroke-width="0.85"/>
<line x1="81.17" y1="515.74" x2="115.04" y2="515.74" stroke="rgba(35,130,130,0.72)" stroke-width="0.85"/>
<line x1="92.57" y1="504.74" x2="92.57" y2="524.34" stroke="rgba(35,130,130,0.72)" stroke-width="0.85"/>
<line x1="63.96" y1="531.29" x2="100.84" y2="531.29" stroke="rgba(35,130,130,0.72)" stroke-width="0.85"/>
<line x1="76.27" y1="518.33" x2="76.27" y2="541.88" stroke="rgba(35,130,130,0.72)" stroke-width="0.85"/>
<line x1="71.36" y1="523.60" x2="109.90" y2="523.60" stroke="rgba(35,130,130,0.72)" stroke-width="0.85"/>
<line x1="86.04" y1="518.31" x2="86.04" y2="532.12" stroke="rgba(35,130,130,0.72)" stroke-width="0.85"/>
<line x1="80.20" y1="518.25" x2="106.04" y2="518.25" stroke="rgba(35,130,130,0.72)" stroke-width="0.85"/>
<line x1="93.30" y1="505.83" x2="93.30" y2="528.37" stroke="rgba(35,130,130,0.72)" stroke-width="0.85"/>
<line x1="56.26" y1="509.90" x2="93.04" y2="509.90" stroke="rgba(35,130,130,0.72)" stroke-width="0.85"/>
<line x1="81.27" y1="496.97" x2="81.27" y2="519.57" stroke="rgba(35,130,130,0.72)" stroke-width="0.85"/>
<line x1="65.05" y1="511.40" x2="100.99" y2="511.40" stroke="rgba(35,130,130,0.72)" stroke-width="0.85"/>
<line x1="84.87" y1="500.52" x2="84.87" y2="519.38" stroke="rgba(35,130,130,0.72)" stroke-width="0.85"/>
<line x1="63.63" y1="506.79" x2="110.32" y2="506.79" stroke="rgba(35,130,130,0.72)" stroke-width="0.85"/>
<line x1="90.36" y1="496.82" x2="90.36" y2="513.61" stroke="rgba(35,130,130,0.72)" stroke-width="0.85"/>
<line x1="60.59" y1="526.30" x2="98.06" y2="526.30" stroke="rgba(35,130,130,0.72)" stroke-width="0.85"/>
<line x1="85.82" y1="520.26" x2="85.82" y2="536.18" stroke="rgba(35,130,130,0.72)" stroke-width="0.85"/>
<line x1="64.29" y1="515.89" x2="98.36" y2="515.89" stroke="rgba(35,130,130,0.72)" stroke-width="0.85"/>
<line x1="77.76" y1="507.62" x2="77.76" y2="521.11" stroke="rgba(35,130,130,0.72)" stroke-width="0.85"/>
<line x1="51.07" y1="530.27" x2="87.80" y2="530.27" stroke="rgba(35,130,130,0.72)" stroke-width="0.85"/>
<line x1="70.97" y1="523.89" x2="70.97" y2="534.37" stroke="rgba(35,130,130,0.72)" stroke-width="0.85"/>
<line x1="78.12" y1="517.17" x2="117.70" y2="517.17" stroke="rgba(35,130,130,0.72)" stroke-width="0.85"/>
<line x1="92.35" y1="512.77" x2="92.35" y2="525.95" stroke="rgba(35,130,130,0.72)" stroke-width="0.85"/>
<line x1="81.82" y1="499.13" x2="111.40" y2="499.13" stroke="rgba(35,130,130,0.72)" stroke-width="0.85"/>
<line x1="92.03" y1="486.66" x2="92.03" y2="504.41" stroke="rgba(35,130,130,0.72)" stroke-width="0.85"/>
<line x1="64.06" y1="525.69" x2="94.42" y2="525.69" stroke="rgba(35,130,130,0.72)" stroke-width="0.85"/>
<line x1="79.32" y1="521.25" x2="79.32" y2="537.69" stroke="rgba(35,130,130,0.72)" stroke-width="0.85"/>
<line x1="79.27" y1="484.78" x2="119.85" y2="484.78" stroke="rgba(35,130,130,0.72)" stroke-width="0.85"/>
<line x1="101.94" y1="474.10" x2="101.94" y2="492.85" stroke="rgba(35,130,130,0.72)" stroke-width="0.85"/>
<line x1="57.04" y1="516.88" x2="103.22" y2="516.88" stroke="rgba(35,130,130,0.72)" stroke-width="0.85"/>
<line x1="78.85" y1="506.48" x2="78.85" y2="523.28" stroke="rgba(35,130,130,0.72)" stroke-width="0.85"/>
<line x1="74.10" y1="522.13" x2="109.53" y2="522.13" stroke="rgba(35,130,130,0.72)" stroke-width="0.85"/>
<line x1="88.61" y1="509.45" x2="88.61" y2="528.09" stroke="rgba(35,130,130,0.72)" stroke-width="0.85"/>
<line x1="51.11" y1="528.85" x2="91.27" y2="528.85" stroke="rgba(35,130,130,0.72)" stroke-width="0.85"/>
<line x1="75.69" y1="522.70" x2="75.69" y2="541.02" stroke="rgba(35,130,130,0.72)" stroke-width="0.85"/>
<line x1="52.08" y1="519.80" x2="94.12" y2="519.80" stroke="rgba(35,130,130,0.72)" stroke-width="0.85"/>
<line x1="76.69" y1="509.27" x2="76.69" y2="528.93" stroke="rgba(35,130,130,0.72)" stroke-width="0.85"/>
<line x1="78.43" y1="508.50" x2="116.04" y2="508.50" stroke="rgba(35,130,130,0.72)" stroke-width="0.85"/>
<line x1="90.24" y1="501.39" x2="90.24" y2="513.78" stroke="rgba(35,130,130,0.72)" stroke-width="0.85"/>
<line x1="75.59" y1="514.15" x2="106.74" y2="514.15" stroke="rgba(35,130,130,0.72)" stroke-width="0.85"/>
<line x1="86.70" y1="506.88" x2="86.70" y2="525.51" stroke="rgba(35,130,130,0.72)" stroke-width="0.85"/>
<line x1="102.32" y1="489.45" x2="127.64" y2="489.45" stroke="rgba(35,130,130,0.72)" stroke-width="0.85"/>
<line x1="114.14" y1="484.44" x2="114.14" y2="493.76" stroke="rgba(35,130,130,0.72)" stroke-width="0.85"/>
<line x1="64.13" y1="504.58" x2="99.76" y2="504.58" stroke="rgba(35,130,130,0.72)" stroke-width="0.85"/>
<line x1="84.87" y1="499.68" x2="84.87" y2="509.46" stroke="rgba(35,130,130,0.72)" stroke-width="0.85"/>
<line x1="79.84" y1="495.69" x2="111.55" y2="495.69" stroke="rgba(35,130,130,0.72)" stroke-width="0.85"/>
<line x1="96.10" y1="483.01" x2="96.10" y2="504.22" stroke="rgba(35,130,130,0.72)" stroke-width="0.85"/>
<line x1="95.65" y1="486.61" x2="136.21" y2="486.61" stroke="rgba(35,130,130,0.72)" stroke-width="0.85"/>
<line x1="113.07" y1="479.49" x2="113.07" y2="496.95" stroke="rgba(35,130,130,0.72)" stroke-width="0.85"/>
<line x1="69.01" y1="521.67" x2="110.91" y2="521.67" stroke="rgba(35,130,130,0.72)" stroke-width="0.85"/>
<line x1="87.36" y1="516.01" x2="87.36" y2="530.12" stroke="rgba(35,130,130,0.72)" stroke-width="0.85"/>
<line x1="71.79" y1="512.96" x2="100.27" y2="512.96" stroke="rgba(35,130,130,0.72)" stroke-width="0.85"/>
<line x1="86.62" y1="502.66" x2="86.62" y2="521.44" stroke="rgba(35,130,130,0.72)" stroke-width="0.85"/>
<line x1="60.81" y1="515.37" x2="97.53" y2="515.37" stroke="rgba(35,130,130,0.72)" stroke-width="0.85"/>
<line x1="81.48" y1="507.76" x2="81.48" y2="522.92" stroke="rgba(35,130,130,0.72)" stroke-width="0.85"/>
<line x1="56.48" y1="522.40" x2="88.29" y2="522.40" stroke="rgba(35,130,130,0.72)" stroke-width="0.85"/>
<line x1="70.45" y1="513.61" x2="70.45" y2="533.19" stroke="rgba(35,130,130,0.72)" stroke-width="0.85"/>
<line x1="79.09" y1="501.52" x2="122.96" y2="501.52" stroke="rgba(35,130,130,0.72)" stroke-width="0.85"/>
<line x1="100.35" y1="495.99" x2="100.35" y2="509.46" stroke="rgba(35,130,130,0.72)" stroke-width="0.85"/>
<line x1="83.63" y1="493.54" x2="122.72" y2="493.54" stroke="rgba(35,130,130,0.72)" stroke-width="0.85"/>
<line x1="108.67" y1="487.82" x2="108.67" y2="500.26" stroke="rgba(35,130,130,0.72)" stroke-width="0.85"/>
<line x1="92.60" y1="483.43" x2="118.56" y2="483.43" stroke="rgba(35,130,130,0.72)" stroke-width="0.85"/>
<line x1="105.10" y1="475.50" x2="105.10" y2="493.13" stroke="rgba(35,130,130,0.72)" stroke-width="0.85"/>
<line x1="63.63" y1="501.94" x2="91.53" y2="501.94" stroke="rgba(35,130,130,0.72)" stroke-width="0.85"/>
<line x1="78.88" y1="488.16" x2="78.88" y2="513.50" stroke="rgba(35,130,130,0.72)" stroke-width="0.85"/>
<line x1="66.46" y1="503.96" x2="106.38" y2="503.96" stroke="rgba(35,130,130,0.72)" stroke-width="0.85"/>
<line x1="82.61" y1="491.80" x2="82.61" y2="515.56" stroke="rgba(35,130,130,0.72)" stroke-width="0.85"/>
<line x1="78.78" y1="492.59" x2="110.85" y2="492.59" stroke="rgba(35,130,130,0.72)" stroke-width="0.85"/>
<line x1="91.92" y1="486.63" x2="91.92" y2="499.45" stroke="rgba(35,130,130,0.72)" stroke-width="0.85"/>
<line x1="74.53" y1="494.18" x2="116.89" y2="494.18" stroke="rgba(35,130,130,0.72)" stroke-width="0.85"/>
<line x1="97.18" y1="484.67" x2="97.18" y2="504.87" stroke="rgba(35,130,130,0.72)" stroke-width="0.85"/>
<line x1="82.83" y1="491.62" x2="113.55" y2="491.62" stroke="rgba(35,130,130,0.72)" stroke-width="0.85"/>
<line x1="95.10" y1="482.98" x2="95.10" y2="503.29" stroke="rgba(35,130,130,0.72)" stroke-width="0.85"/>
<line x1="81.33" y1="476.44" x2="119.22" y2="476.44" stroke="rgba(35,130,130,0.72)" stroke-width="0.85"/>
<line x1="103.32" y1="469.39" x2="103.32" y2="487.94" stroke="rgba(35,130,130,0.72)" stroke-width="0.85"/>
<line x1="91.08" y1="477.40" x2="133.27" y2="477.40" stroke="rgba(35,130,130,0.72)" stroke-width="0.85"/>
<line x1="113.47" y1="464.72" x2="113.47" y2="488.51" stroke="rgba(35,130,130,0.72)" stroke-width="0.85"/>
<line x1="75.21" y1="485.54" x2="106.63" y2="485.54" stroke="rgba(35,130,130,0.72)" stroke-width="0.85"/>
<line x1="95.26" y1="476.76" x2="95.26" y2="497.58" stroke="rgba(35,130,130,0.72)" stroke-width="0.85"/>
<line x1="84.93" y1="483.09" x2="118.50" y2="483.09" stroke="rgba(35,130,130,0.72)" stroke-width="0.85"/>
<line x1="105.00" y1="474.28" x2="105.00" y2="492.19" stroke="rgba(35,130,130,0.72)" stroke-width="0.85"/>
<line x1="66.81" y1="486.22" x2="104.25" y2="486.22" stroke="rgba(35,130,130,0.72)" stroke-width="0.85"/>
<line x1="91.69" y1="475.33" x2="91.69" y2="498.22" stroke="rgba(35,130,130,0.72)" stroke-width="0.85"/>
<line x1="78.21" y1="494.17" x2="119.70" y2="494.17" stroke="rgba(35,130,130,0.72)" stroke-width="0.85"/>
<line x1="96.05" y1="488.82" x2="96.05" y2="504.06" stroke="rgba(35,130,130,0.72)" stroke-width="0.85"/>
<line x1="66.73" y1="501.94" x2="96.45" y2="501.94" stroke="rgba(35,130,130,0.72)" stroke-width="0.85"/>
<line x1="85.04" y1="491.77" x2="85.04" y2="511.81" stroke="rgba(35,130,130,0.72)" stroke-width="0.85"/>
<line x1="70.32" y1="482.95" x2="107.46" y2="482.95" stroke="rgba(35,130,130,0.72)" stroke-width="0.85"/>
<line x1="88.52" y1="470.49" x2="88.52" y2="492.65" stroke="rgba(35,130,130,0.72)" stroke-width="0.85"/>
<line x1="74.92" y1="493.43" x2="111.36" y2="493.43" stroke="rgba(35,130,130,0.72)" stroke-width="0.85"/>
<line x1="95.87" y1="481.56" x2="95.87" y2="499.53" stroke="rgba(35,130,130,0.72)" stroke-width="0.85"/>
<line x1="96.81" y1="473.83" x2="123.29" y2="473.83" stroke="rgba(35,130,130,0.72)" stroke-width="0.85"/>
<line x1="112.50" y1="466.36" x2="112.50" y2="482.43" stroke="rgba(35,130,130,0.72)" stroke-width="0.85"/>
<line x1="69.01" y1="495.65" x2="105.72" y2="495.65" stroke="rgba(35,130,130,0.72)" stroke-width="0.85"/>
<line x1="90.79" y1="487.00" x2="90.79" y2="503.90" stroke="rgba(35,130,130,0.72)" stroke-width="0.85"/>
<line x1="99.92" y1="473.56" x2="142.45" y2="473.56" stroke="rgba(35,130,130,0.72)" stroke-width="0.85"/>
<line x1="125.08" y1="465.37" x2="125.08" y2="487.58" stroke="rgba(35,130,130,0.72)" stroke-width="0.85"/>
<line x1="87.66" y1="484.17" x2="131.86" y2="484.17" stroke="rgba(35,130,130,0.72)" stroke-width="0.85"/>
<line x1="110.53" y1="471.82" x2="110.53" y2="494.86" stroke="rgba(35,130,130,0.72)" stroke-width="0.85"/>
<line x1="103.73" y1="479.01" x2="142.39" y2="479.01" stroke="rgba(35,130,130,0.72)" stroke-width="0.85"/>
<line x1="118.89" y1="469.47" x2="118.89" y2="491.39" stroke="rgba(35,130,130,0.72)" stroke-width="0.85"/>
<line x1="111.25" y1="471.22" x2="145.04" y2="471.22" stroke="rgba(35,130,130,0.72)" stroke-width="0.85"/>
<line x1="127.37" y1="463.97" x2="127.37" y2="485.56" stroke="rgba(35,130,130,0.72)" stroke-width="0.85"/>
<line x1="77.89" y1="485.29" x2="115.54" y2="485.29" stroke="rgba(35,130,130,0.72)" stroke-width="0.85"/>
<line x1="101.80" y1="475.53" x2="101.80" y2="493.83" stroke="rgba(35,130,130,0.72)" stroke-width="0.85"/>
<line x1="88.98" y1="483.13" x2="125.03" y2="483.13" stroke="rgba(35,130,130,0.72)" stroke-width="0.85"/>
<line x1="111.09" y1="474.68" x2="111.09" y2="492.15" stroke="rgba(35,130,130,0.72)" stroke-width="0.85"/>
<line x1="95.18" y1="481.51" x2="132.10" y2="481.51" stroke="rgba(35,130,130,0.72)" stroke-width="0.85"/>
<line x1="113.18" y1="468.92" x2="113.18" y2="491.13" stroke="rgba(35,130,130,0.72)" stroke-width="0.85"/>
<line x1="105.99" y1="467.88" x2="152.26" y2="467.88" stroke="rgba(35,130,130,0.72)" stroke-width="0.85"/>
<line x1="129.58" y1="454.04" x2="129.58" y2="475.29" stroke="rgba(35,130,130,0.72)" stroke-width="0.85"/>
<line x1="102.25" y1="470.84" x2="133.32" y2="470.84" stroke="rgba(35,130,130,0.72)" stroke-width="0.85"/>
<line x1="123.11" y1="464.72" x2="123.11" y2="486.35" stroke="rgba(35,130,130,0.72)" stroke-width="0.85"/>
<line x1="104.83" y1="476.16" x2="132.09" y2="476.16" stroke="rgba(35,130,130,0.72)" stroke-width="0.85"/>
<line x1="118.82" y1="462.39" x2="118.82" y2="485.62" stroke="rgba(35,130,130,0.72)" stroke-width="0.85"/>
<line x1="79.81" y1="491.42" x2="125.55" y2="491.42" stroke="rgba(35,130,130,0.72)" stroke-width="0.85"/>
<line x1="104.47" y1="483.75" x2="104.47" y2="506.34" stroke="rgba(35,130,130,0.72)" stroke-width="0.85"/>
<line x1="94.54" y1="477.60" x2="140.09" y2="477.60" stroke="rgba(35,130,130,0.72)" stroke-width="0.85"/>
<line x1="119.06" y1="463.21" x2="119.06" y2="485.57" stroke="rgba(35,130,130,0.72)" stroke-width="0.85"/>
<line x1="91.25" y1="475.04" x2="131.06" y2="475.04" stroke="rgba(35,130,130,0.72)" stroke-width="0.85"/>
<line x1="110.68" y1="464.65" x2="110.68" y2="489.87" stroke="rgba(35,130,130,0.72)" stroke-width="0.85"/>
<circle cx="231.80" cy="383.60" r="1.6" fill="#1f7d7c" stroke="#fff" stroke-width="0.55"/>
<circle cx="227.10" cy="393.90" r="1.6" fill="#1f7d7c" stroke="#fff" stroke-width="0.55"/>
<circle cx="212.00" cy="393.90" r="1.6" fill="#1f7d7c" stroke="#fff" stroke-width="0.55"/>
<circle cx="210.70" cy="402.80" r="1.6" fill="#1f7d7c" stroke="#fff" stroke-width="0.55"/>
<circle cx="206.80" cy="407.50" r="1.6" fill="#1f7d7c" stroke="#fff" stroke-width="0.55"/>
<circle cx="179.50" cy="420.30" r="1.6" fill="#1f7d7c" stroke="#fff" stroke-width="0.55"/>
<circle cx="176.30" cy="428.20" r="1.6" fill="#1f7d7c" stroke="#fff" stroke-width="0.55"/>
<circle cx="167.90" cy="435.70" r="1.6" fill="#1f7d7c" stroke="#fff" stroke-width="0.55"/>
<circle cx="161.30" cy="438.70" r="1.6" fill="#1f7d7c" stroke="#fff" stroke-width="0.55"/>
<circle cx="161.10" cy="438.90" r="1.6" fill="#1f7d7c" stroke="#fff" stroke-width="0.55"/>
<circle cx="166.20" cy="442.10" r="1.6" fill="#1f7d7c" stroke="#fff" stroke-width="0.55"/>
<circle cx="167.90" cy="445.70" r="1.6" fill="#1f7d7c" stroke="#fff" stroke-width="0.55"/>
<circle cx="150.80" cy="444.80" r="1.6" fill="#1f7d7c" stroke="#fff" stroke-width="0.55"/>
<circle cx="154.80" cy="451.70" r="1.6" fill="#1f7d7c" stroke="#fff" stroke-width="0.55"/>
<circle cx="148.80" cy="450.90" r="1.6" fill="#1f7d7c" stroke="#fff" stroke-width="0.55"/>
<circle cx="146.40" cy="452.00" r="1.6" fill="#1f7d7c" stroke="#fff" stroke-width="0.55"/>
<circle cx="150.60" cy="454.90" r="1.6" fill="#1f7d7c" stroke="#fff" stroke-width="0.55"/>
<circle cx="141.40" cy="456.20" r="1.6" fill="#1f7d7c" stroke="#fff" stroke-width="0.55"/>
<circle cx="144.60" cy="457.10" r="1.6" fill="#1f7d7c" stroke="#fff" stroke-width="0.55"/>
<circle cx="148.80" cy="458.90" r="1.6" fill="#1f7d7c" stroke="#fff" stroke-width="0.55"/>
<circle cx="136.00" cy="460.70" r="1.6" fill="#1f7d7c" stroke="#fff" stroke-width="0.55"/>
<circle cx="146.20" cy="463.60" r="1.6" fill="#1f7d7c" stroke="#fff" stroke-width="0.55"/>
<circle cx="138.00" cy="466.60" r="1.6" fill="#1f7d7c" stroke="#fff" stroke-width="0.55"/>
<circle cx="135.10" cy="469.60" r="1.6" fill="#1f7d7c" stroke="#fff" stroke-width="0.55"/>
<circle cx="121.90" cy="472.00" r="1.6" fill="#1f7d7c" stroke="#fff" stroke-width="0.55"/>
<circle cx="115.90" cy="475.60" r="1.6" fill="#1f7d7c" stroke="#fff" stroke-width="0.55"/>
<circle cx="119.30" cy="474.80" r="1.6" fill="#1f7d7c" stroke="#fff" stroke-width="0.55"/>
<circle cx="114.70" cy="478.00" r="1.6" fill="#1f7d7c" stroke="#fff" stroke-width="0.55"/>
<circle cx="110.50" cy="479.80" r="1.6" fill="#1f7d7c" stroke="#fff" stroke-width="0.55"/>
<circle cx="122.90" cy="481.00" r="1.6" fill="#1f7d7c" stroke="#fff" stroke-width="0.55"/>
<circle cx="127.30" cy="481.60" r="1.6" fill="#1f7d7c" stroke="#fff" stroke-width="0.55"/>
<circle cx="112.30" cy="483.40" r="1.6" fill="#1f7d7c" stroke="#fff" stroke-width="0.55"/>
<circle cx="114.10" cy="486.40" r="1.6" fill="#1f7d7c" stroke="#fff" stroke-width="0.55"/>
<circle cx="73.17" cy="524.71" r="1.6" fill="#1f7d7c" stroke="#fff" stroke-width="0.55"/>
<circle cx="73.26" cy="530.81" r="1.6" fill="#1f7d7c" stroke="#fff" stroke-width="0.55"/>
<circle cx="91.09" cy="500.24" r="1.6" fill="#1f7d7c" stroke="#fff" stroke-width="0.55"/>
<circle cx="108.08" cy="495.50" r="1.6" fill="#1f7d7c" stroke="#fff" stroke-width="0.55"/>
<circle cx="78.56" cy="525.15" r="1.6" fill="#1f7d7c" stroke="#fff" stroke-width="0.55"/>
<circle cx="98.93" cy="505.63" r="1.6" fill="#1f7d7c" stroke="#fff" stroke-width="0.55"/>
<circle cx="95.64" cy="510.39" r="1.6" fill="#1f7d7c" stroke="#fff" stroke-width="0.55"/>
<circle cx="78.84" cy="506.64" r="1.6" fill="#1f7d7c" stroke="#fff" stroke-width="0.55"/>
<circle cx="69.93" cy="524.00" r="1.6" fill="#1f7d7c" stroke="#fff" stroke-width="0.55"/>
<circle cx="104.69" cy="496.79" r="1.6" fill="#1f7d7c" stroke="#fff" stroke-width="0.55"/>
<circle cx="78.27" cy="519.41" r="1.6" fill="#1f7d7c" stroke="#fff" stroke-width="0.55"/>
<circle cx="73.97" cy="527.99" r="1.6" fill="#1f7d7c" stroke="#fff" stroke-width="0.55"/>
<circle cx="101.84" cy="494.05" r="1.6" fill="#1f7d7c" stroke="#fff" stroke-width="0.55"/>
<circle cx="79.45" cy="530.17" r="1.6" fill="#1f7d7c" stroke="#fff" stroke-width="0.55"/>
<circle cx="80.20" cy="528.66" r="1.6" fill="#1f7d7c" stroke="#fff" stroke-width="0.55"/>
<circle cx="95.30" cy="504.46" r="1.6" fill="#1f7d7c" stroke="#fff" stroke-width="0.55"/>
<circle cx="78.18" cy="526.72" r="1.6" fill="#1f7d7c" stroke="#fff" stroke-width="0.55"/>
<circle cx="82.97" cy="510.49" r="1.6" fill="#1f7d7c" stroke="#fff" stroke-width="0.55"/>
<circle cx="64.07" cy="527.06" r="1.6" fill="#1f7d7c" stroke="#fff" stroke-width="0.55"/>
<circle cx="80.67" cy="528.24" r="1.6" fill="#1f7d7c" stroke="#fff" stroke-width="0.55"/>
<circle cx="70.28" cy="537.13" r="1.6" fill="#1f7d7c" stroke="#fff" stroke-width="0.55"/>
<circle cx="72.15" cy="524.40" r="1.6" fill="#1f7d7c" stroke="#fff" stroke-width="0.55"/>
<circle cx="79.34" cy="524.57" r="1.6" fill="#1f7d7c" stroke="#fff" stroke-width="0.55"/>
<circle cx="100.71" cy="492.67" r="1.6" fill="#1f7d7c" stroke="#fff" stroke-width="0.55"/>
<circle cx="89.01" cy="516.59" r="1.6" fill="#1f7d7c" stroke="#fff" stroke-width="0.55"/>
<circle cx="67.50" cy="536.14" r="1.6" fill="#1f7d7c" stroke="#fff" stroke-width="0.55"/>
<circle cx="79.85" cy="524.25" r="1.6" fill="#1f7d7c" stroke="#fff" stroke-width="0.55"/>
<circle cx="80.52" cy="511.54" r="1.6" fill="#1f7d7c" stroke="#fff" stroke-width="0.55"/>
<circle cx="90.34" cy="509.64" r="1.6" fill="#1f7d7c" stroke="#fff" stroke-width="0.55"/>
<circle cx="68.68" cy="535.53" r="1.6" fill="#1f7d7c" stroke="#fff" stroke-width="0.55"/>
<circle cx="94.80" cy="492.36" r="1.6" fill="#1f7d7c" stroke="#fff" stroke-width="0.55"/>
<circle cx="96.07" cy="504.54" r="1.6" fill="#1f7d7c" stroke="#fff" stroke-width="0.55"/>
<circle cx="85.68" cy="537.29" r="1.6" fill="#1f7d7c" stroke="#fff" stroke-width="0.55"/>
<circle cx="81.07" cy="530.90" r="1.6" fill="#1f7d7c" stroke="#fff" stroke-width="0.55"/>
<circle cx="77.38" cy="529.04" r="1.6" fill="#1f7d7c" stroke="#fff" stroke-width="0.55"/>
<circle cx="99.37" cy="495.20" r="1.6" fill="#1f7d7c" stroke="#fff" stroke-width="0.55"/>
<circle cx="86.77" cy="506.11" r="1.6" fill="#1f7d7c" stroke="#fff" stroke-width="0.55"/>
<circle cx="75.77" cy="527.83" r="1.6" fill="#1f7d7c" stroke="#fff" stroke-width="0.55"/>
<circle cx="99.42" cy="497.30" r="1.6" fill="#1f7d7c" stroke="#fff" stroke-width="0.55"/>
<circle cx="78.21" cy="523.60" r="1.6" fill="#1f7d7c" stroke="#fff" stroke-width="0.55"/>
<circle cx="104.57" cy="498.73" r="1.6" fill="#1f7d7c" stroke="#fff" stroke-width="0.55"/>
<circle cx="102.89" cy="494.48" r="1.6" fill="#1f7d7c" stroke="#fff" stroke-width="0.55"/>
<circle cx="82.61" cy="515.68" r="1.6" fill="#1f7d7c" stroke="#fff" stroke-width="0.55"/>
<circle cx="93.37" cy="510.18" r="1.6" fill="#1f7d7c" stroke="#fff" stroke-width="0.55"/>
<circle cx="79.33" cy="519.79" r="1.6" fill="#1f7d7c" stroke="#fff" stroke-width="0.55"/>
<circle cx="89.97" cy="490.18" r="1.6" fill="#1f7d7c" stroke="#fff" stroke-width="0.55"/>
<circle cx="79.88" cy="528.24" r="1.6" fill="#1f7d7c" stroke="#fff" stroke-width="0.55"/>
<circle cx="74.43" cy="515.57" r="1.6" fill="#1f7d7c" stroke="#fff" stroke-width="0.55"/>
<circle cx="71.65" cy="524.30" r="1.6" fill="#1f7d7c" stroke="#fff" stroke-width="0.55"/>
<circle cx="85.60" cy="513.99" r="1.6" fill="#1f7d7c" stroke="#fff" stroke-width="0.55"/>
<circle cx="90.00" cy="511.96" r="1.6" fill="#1f7d7c" stroke="#fff" stroke-width="0.55"/>
<circle cx="78.33" cy="527.38" r="1.6" fill="#1f7d7c" stroke="#fff" stroke-width="0.55"/>
<circle cx="81.62" cy="521.66" r="1.6" fill="#1f7d7c" stroke="#fff" stroke-width="0.55"/>
<circle cx="78.08" cy="524.82" r="1.6" fill="#1f7d7c" stroke="#fff" stroke-width="0.55"/>
<circle cx="86.67" cy="520.63" r="1.6" fill="#1f7d7c" stroke="#fff" stroke-width="0.55"/>
<circle cx="79.40" cy="517.46" r="1.6" fill="#1f7d7c" stroke="#fff" stroke-width="0.55"/>
<circle cx="71.87" cy="532.67" r="1.6" fill="#1f7d7c" stroke="#fff" stroke-width="0.55"/>
<circle cx="102.29" cy="497.35" r="1.6" fill="#1f7d7c" stroke="#fff" stroke-width="0.55"/>
<circle cx="97.83" cy="513.29" r="1.6" fill="#1f7d7c" stroke="#fff" stroke-width="0.55"/>
<circle cx="95.49" cy="494.48" r="1.6" fill="#1f7d7c" stroke="#fff" stroke-width="0.55"/>
<circle cx="75.53" cy="525.21" r="1.6" fill="#1f7d7c" stroke="#fff" stroke-width="0.55"/>
<circle cx="97.85" cy="501.95" r="1.6" fill="#1f7d7c" stroke="#fff" stroke-width="0.55"/>
<circle cx="98.65" cy="496.02" r="1.6" fill="#1f7d7c" stroke="#fff" stroke-width="0.55"/>
<circle cx="83.92" cy="520.26" r="1.6" fill="#1f7d7c" stroke="#fff" stroke-width="0.55"/>
<circle cx="75.99" cy="532.53" r="1.6" fill="#1f7d7c" stroke="#fff" stroke-width="0.55"/>
<circle cx="69.51" cy="533.67" r="1.6" fill="#1f7d7c" stroke="#fff" stroke-width="0.55"/>
<circle cx="72.97" cy="530.88" r="1.6" fill="#1f7d7c" stroke="#fff" stroke-width="0.55"/>
<circle cx="68.47" cy="527.46" r="1.6" fill="#1f7d7c" stroke="#fff" stroke-width="0.55"/>
<circle cx="87.07" cy="510.98" r="1.6" fill="#1f7d7c" stroke="#fff" stroke-width="0.55"/>
<circle cx="81.84" cy="519.08" r="1.6" fill="#1f7d7c" stroke="#fff" stroke-width="0.55"/>
<circle cx="91.33" cy="500.85" r="1.6" fill="#1f7d7c" stroke="#fff" stroke-width="0.55"/>
<circle cx="96.28" cy="505.96" r="1.6" fill="#1f7d7c" stroke="#fff" stroke-width="0.55"/>
<circle cx="79.77" cy="528.19" r="1.6" fill="#1f7d7c" stroke="#fff" stroke-width="0.55"/>
<circle cx="74.60" cy="537.58" r="1.6" fill="#1f7d7c" stroke="#fff" stroke-width="0.55"/>
<circle cx="70.93" cy="533.55" r="1.6" fill="#1f7d7c" stroke="#fff" stroke-width="0.55"/>
<circle cx="83.73" cy="521.61" r="1.6" fill="#1f7d7c" stroke="#fff" stroke-width="0.55"/>
<circle cx="92.95" cy="511.99" r="1.6" fill="#1f7d7c" stroke="#fff" stroke-width="0.55"/>
<circle cx="77.45" cy="528.09" r="1.6" fill="#1f7d7c" stroke="#fff" stroke-width="0.55"/>
<circle cx="92.69" cy="518.20" r="1.6" fill="#1f7d7c" stroke="#fff" stroke-width="0.55"/>
<circle cx="81.02" cy="521.40" r="1.6" fill="#1f7d7c" stroke="#fff" stroke-width="0.55"/>
<circle cx="81.56" cy="514.18" r="1.6" fill="#1f7d7c" stroke="#fff" stroke-width="0.55"/>
<circle cx="79.27" cy="518.83" r="1.6" fill="#1f7d7c" stroke="#fff" stroke-width="0.55"/>
<circle cx="105.11" cy="493.41" r="1.6" fill="#1f7d7c" stroke="#fff" stroke-width="0.55"/>
<circle cx="86.58" cy="518.56" r="1.6" fill="#1f7d7c" stroke="#fff" stroke-width="0.55"/>
<circle cx="81.83" cy="519.95" r="1.6" fill="#1f7d7c" stroke="#fff" stroke-width="0.55"/>
<circle cx="86.96" cy="518.70" r="1.6" fill="#1f7d7c" stroke="#fff" stroke-width="0.55"/>
<circle cx="82.22" cy="526.28" r="1.6" fill="#1f7d7c" stroke="#fff" stroke-width="0.55"/>
<circle cx="79.30" cy="525.45" r="1.6" fill="#1f7d7c" stroke="#fff" stroke-width="0.55"/>
<circle cx="82.30" cy="526.87" r="1.6" fill="#1f7d7c" stroke="#fff" stroke-width="0.55"/>
<circle cx="102.20" cy="489.92" r="1.6" fill="#1f7d7c" stroke="#fff" stroke-width="0.55"/>
<circle cx="73.22" cy="525.10" r="1.6" fill="#1f7d7c" stroke="#fff" stroke-width="0.55"/>
<circle cx="110.72" cy="496.75" r="1.6" fill="#1f7d7c" stroke="#fff" stroke-width="0.55"/>
<circle cx="81.74" cy="514.94" r="1.6" fill="#1f7d7c" stroke="#fff" stroke-width="0.55"/>
<circle cx="76.90" cy="528.48" r="1.6" fill="#1f7d7c" stroke="#fff" stroke-width="0.55"/>
<circle cx="72.97" cy="534.58" r="1.6" fill="#1f7d7c" stroke="#fff" stroke-width="0.55"/>
<circle cx="83.28" cy="521.95" r="1.6" fill="#1f7d7c" stroke="#fff" stroke-width="0.55"/>
<circle cx="94.11" cy="492.98" r="1.6" fill="#1f7d7c" stroke="#fff" stroke-width="0.55"/>
<circle cx="103.95" cy="492.94" r="1.6" fill="#1f7d7c" stroke="#fff" stroke-width="0.55"/>
<circle cx="75.89" cy="523.59" r="1.6" fill="#1f7d7c" stroke="#fff" stroke-width="0.55"/>
<circle cx="69.45" cy="530.41" r="1.6" fill="#1f7d7c" stroke="#fff" stroke-width="0.55"/>
<circle cx="92.57" cy="515.74" r="1.6" fill="#1f7d7c" stroke="#fff" stroke-width="0.55"/>
<circle cx="76.27" cy="531.29" r="1.6" fill="#1f7d7c" stroke="#fff" stroke-width="0.55"/>
<circle cx="86.04" cy="523.60" r="1.6" fill="#1f7d7c" stroke="#fff" stroke-width="0.55"/>
<circle cx="93.30" cy="518.25" r="1.6" fill="#1f7d7c" stroke="#fff" stroke-width="0.55"/>
<circle cx="81.27" cy="509.90" r="1.6" fill="#1f7d7c" stroke="#fff" stroke-width="0.55"/>
<circle cx="84.87" cy="511.40" r="1.6" fill="#1f7d7c" stroke="#fff" stroke-width="0.55"/>
<circle cx="90.36" cy="506.79" r="1.6" fill="#1f7d7c" stroke="#fff" stroke-width="0.55"/>
<circle cx="85.82" cy="526.30" r="1.6" fill="#1f7d7c" stroke="#fff" stroke-width="0.55"/>
<circle cx="77.76" cy="515.89" r="1.6" fill="#1f7d7c" stroke="#fff" stroke-width="0.55"/>
<circle cx="70.97" cy="530.27" r="1.6" fill="#1f7d7c" stroke="#fff" stroke-width="0.55"/>
<circle cx="92.35" cy="517.17" r="1.6" fill="#1f7d7c" stroke="#fff" stroke-width="0.55"/>
<circle cx="92.03" cy="499.13" r="1.6" fill="#1f7d7c" stroke="#fff" stroke-width="0.55"/>
<circle cx="79.32" cy="525.69" r="1.6" fill="#1f7d7c" stroke="#fff" stroke-width="0.55"/>
<circle cx="101.94" cy="484.78" r="1.6" fill="#1f7d7c" stroke="#fff" stroke-width="0.55"/>
<circle cx="78.85" cy="516.88" r="1.6" fill="#1f7d7c" stroke="#fff" stroke-width="0.55"/>
<circle cx="88.61" cy="522.13" r="1.6" fill="#1f7d7c" stroke="#fff" stroke-width="0.55"/>
<circle cx="75.69" cy="528.85" r="1.6" fill="#1f7d7c" stroke="#fff" stroke-width="0.55"/>
<circle cx="76.69" cy="519.80" r="1.6" fill="#1f7d7c" stroke="#fff" stroke-width="0.55"/>
<circle cx="90.24" cy="508.50" r="1.6" fill="#1f7d7c" stroke="#fff" stroke-width="0.55"/>
<circle cx="86.70" cy="514.15" r="1.6" fill="#1f7d7c" stroke="#fff" stroke-width="0.55"/>
<circle cx="114.14" cy="489.45" r="1.6" fill="#1f7d7c" stroke="#fff" stroke-width="0.55"/>
<circle cx="84.87" cy="504.58" r="1.6" fill="#1f7d7c" stroke="#fff" stroke-width="0.55"/>
<circle cx="96.10" cy="495.69" r="1.6" fill="#1f7d7c" stroke="#fff" stroke-width="0.55"/>
<circle cx="113.07" cy="486.61" r="1.6" fill="#1f7d7c" stroke="#fff" stroke-width="0.55"/>
<circle cx="87.36" cy="521.67" r="1.6" fill="#1f7d7c" stroke="#fff" stroke-width="0.55"/>
<circle cx="86.62" cy="512.96" r="1.6" fill="#1f7d7c" stroke="#fff" stroke-width="0.55"/>
<circle cx="81.48" cy="515.37" r="1.6" fill="#1f7d7c" stroke="#fff" stroke-width="0.55"/>
<circle cx="70.45" cy="522.40" r="1.6" fill="#1f7d7c" stroke="#fff" stroke-width="0.55"/>
<circle cx="100.35" cy="501.52" r="1.6" fill="#1f7d7c" stroke="#fff" stroke-width="0.55"/>
<circle cx="108.67" cy="493.54" r="1.6" fill="#1f7d7c" stroke="#fff" stroke-width="0.55"/>
<circle cx="105.10" cy="483.43" r="1.6" fill="#1f7d7c" stroke="#fff" stroke-width="0.55"/>
<circle cx="78.88" cy="501.94" r="1.6" fill="#1f7d7c" stroke="#fff" stroke-width="0.55"/>
<circle cx="82.61" cy="503.96" r="1.6" fill="#1f7d7c" stroke="#fff" stroke-width="0.55"/>
<circle cx="91.92" cy="492.59" r="1.6" fill="#1f7d7c" stroke="#fff" stroke-width="0.55"/>
<circle cx="97.18" cy="494.18" r="1.6" fill="#1f7d7c" stroke="#fff" stroke-width="0.55"/>
<circle cx="95.10" cy="491.62" r="1.6" fill="#1f7d7c" stroke="#fff" stroke-width="0.55"/>
<circle cx="103.32" cy="476.44" r="1.6" fill="#1f7d7c" stroke="#fff" stroke-width="0.55"/>
<circle cx="113.47" cy="477.40" r="1.6" fill="#1f7d7c" stroke="#fff" stroke-width="0.55"/>
<circle cx="95.26" cy="485.54" r="1.6" fill="#1f7d7c" stroke="#fff" stroke-width="0.55"/>
<circle cx="105.00" cy="483.09" r="1.6" fill="#1f7d7c" stroke="#fff" stroke-width="0.55"/>
<circle cx="91.69" cy="486.22" r="1.6" fill="#1f7d7c" stroke="#fff" stroke-width="0.55"/>
<circle cx="96.05" cy="494.17" r="1.6" fill="#1f7d7c" stroke="#fff" stroke-width="0.55"/>
<circle cx="85.04" cy="501.94" r="1.6" fill="#1f7d7c" stroke="#fff" stroke-width="0.55"/>
<circle cx="88.52" cy="482.95" r="1.6" fill="#1f7d7c" stroke="#fff" stroke-width="0.55"/>
<circle cx="95.87" cy="493.43" r="1.6" fill="#1f7d7c" stroke="#fff" stroke-width="0.55"/>
<circle cx="112.50" cy="473.83" r="1.6" fill="#1f7d7c" stroke="#fff" stroke-width="0.55"/>
<circle cx="90.79" cy="495.65" r="1.6" fill="#1f7d7c" stroke="#fff" stroke-width="0.55"/>
<circle cx="125.08" cy="473.56" r="1.6" fill="#1f7d7c" stroke="#fff" stroke-width="0.55"/>
<circle cx="110.53" cy="484.17" r="1.6" fill="#1f7d7c" stroke="#fff" stroke-width="0.55"/>
<circle cx="118.89" cy="479.01" r="1.6" fill="#1f7d7c" stroke="#fff" stroke-width="0.55"/>
<circle cx="127.37" cy="471.22" r="1.6" fill="#1f7d7c" stroke="#fff" stroke-width="0.55"/>
<circle cx="101.80" cy="485.29" r="1.6" fill="#1f7d7c" stroke="#fff" stroke-width="0.55"/>
<circle cx="111.09" cy="483.13" r="1.6" fill="#1f7d7c" stroke="#fff" stroke-width="0.55"/>
<circle cx="113.18" cy="481.51" r="1.6" fill="#1f7d7c" stroke="#fff" stroke-width="0.55"/>
<circle cx="129.58" cy="467.88" r="1.6" fill="#1f7d7c" stroke="#fff" stroke-width="0.55"/>
<circle cx="123.11" cy="470.84" r="1.6" fill="#1f7d7c" stroke="#fff" stroke-width="0.55"/>
<circle cx="118.82" cy="476.16" r="1.6" fill="#1f7d7c" stroke="#fff" stroke-width="0.55"/>
<circle cx="104.47" cy="491.42" r="1.6" fill="#1f7d7c" stroke="#fff" stroke-width="0.55"/>
<circle cx="119.06" cy="477.60" r="1.6" fill="#1f7d7c" stroke="#fff" stroke-width="0.55"/>
<circle cx="110.68" cy="475.04" r="1.6" fill="#1f7d7c" stroke="#fff" stroke-width="0.55"/>
<line x1="81.20" y1="524.90" x2="86.20" y2="524.90" stroke="rgba(232,38,42,0.75)" stroke-width="0.8"/>
<line x1="83.20" y1="522.90" x2="83.20" y2="526.90" stroke="rgba(232,38,42,0.75)" stroke-width="0.8"/>
<line x1="82.60" y1="523.90" x2="87.60" y2="523.90" stroke="rgba(232,38,42,0.75)" stroke-width="0.8"/>
<line x1="84.60" y1="521.90" x2="84.60" y2="525.90" stroke="rgba(232,38,42,0.75)" stroke-width="0.8"/>
<line x1="88.10" y1="524.10" x2="93.10" y2="524.10" stroke="rgba(232,38,42,0.75)" stroke-width="0.8"/>
<line x1="90.10" y1="522.10" x2="90.10" y2="526.10" stroke="rgba(232,38,42,0.75)" stroke-width="0.8"/>
<line x1="92.00" y1="527.40" x2="96.00" y2="527.40" stroke="rgba(232,38,42,0.75)" stroke-width="0.8"/>
<line x1="94.00" y1="526.40" x2="94.00" y2="538.40" stroke="rgba(232,38,42,0.75)" stroke-width="0.8"/>
<line x1="96.00" y1="523.50" x2="101.00" y2="523.50" stroke="rgba(232,38,42,0.75)" stroke-width="0.8"/>
<line x1="98.00" y1="521.50" x2="98.00" y2="525.50" stroke="rgba(232,38,42,0.75)" stroke-width="0.8"/>
<line x1="86.00" y1="531.00" x2="122.50" y2="531.00" stroke="rgba(232,38,42,0.75)" stroke-width="0.8"/>
<line x1="102.50" y1="529.00" x2="102.50" y2="533.00" stroke="rgba(232,38,42,0.75)" stroke-width="0.8"/>
<circle cx="83.20" cy="524.90" r="1.8" fill="#e8262a" stroke="#fff" stroke-width="0.5"/>
<circle cx="84.60" cy="523.90" r="1.8" fill="#e8262a" stroke="#fff" stroke-width="0.5"/>
<circle cx="90.10" cy="524.10" r="1.8" fill="#e8262a" stroke="#fff" stroke-width="0.5"/>
<circle cx="94.00" cy="527.40" r="1.8" fill="#e8262a" stroke="#fff" stroke-width="0.5"/>
<circle cx="98.00" cy="523.50" r="1.8" fill="#e8262a" stroke="#fff" stroke-width="0.5"/>
<circle cx="102.50" cy="531.00" r="1.8" fill="#e8262a" stroke="#fff" stroke-width="0.5"/>
<rect x="41.00" y="323.00" width="260.20" height="229.00" fill="none" stroke="#555" stroke-width="1.0"/>
<line x1="39.00" y1="522.60" x2="41.00" y2="522.60" stroke="#333" stroke-width="0.9"/>
<text transform="translate(37.60,527.29) scale(1.0,1)" text-anchor="end" font-size="11.8" fill="#000">0.00</text>
<line x1="39.00" y1="475.20" x2="41.00" y2="475.20" stroke="#333" stroke-width="0.9"/>
<text transform="translate(37.60,479.89) scale(1.0,1)" text-anchor="end" font-size="11.8" fill="#000">0.25</text>
<line x1="39.00" y1="427.80" x2="41.00" y2="427.80" stroke="#333" stroke-width="0.9"/>
<text transform="translate(37.60,432.49) scale(1.0,1)" text-anchor="end" font-size="11.8" fill="#000">0.50</text>
<line x1="39.00" y1="380.40" x2="41.00" y2="380.40" stroke="#333" stroke-width="0.9"/>
<text transform="translate(37.60,385.09) scale(1.0,1)" text-anchor="end" font-size="11.8" fill="#000">0.75</text>
<line x1="39.00" y1="333.00" x2="41.00" y2="333.00" stroke="#333" stroke-width="0.9"/>
<text transform="translate(37.60,337.69) scale(1.0,1)" text-anchor="end" font-size="11.8" fill="#000">1.00</text>
<line x1="73.60" y1="552.00" x2="73.60" y2="554.00" stroke="#333" stroke-width="0.9"/>
<text transform="translate(73.60,564.40) scale(1.0,1)" text-anchor="middle" font-size="12.0" fill="#000">0.00</text>
<line x1="127.45" y1="552.00" x2="127.45" y2="554.00" stroke="#333" stroke-width="0.9"/>
<text transform="translate(127.45,564.40) scale(1.0,1)" text-anchor="middle" font-size="12.0" fill="#000">0.25</text>
<line x1="181.30" y1="552.00" x2="181.30" y2="554.00" stroke="#333" stroke-width="0.9"/>
<text transform="translate(181.30,564.40) scale(1.0,1)" text-anchor="middle" font-size="12.0" fill="#000">0.50</text>
<line x1="235.15" y1="552.00" x2="235.15" y2="554.00" stroke="#333" stroke-width="0.9"/>
<text transform="translate(235.15,564.40) scale(1.0,1)" text-anchor="middle" font-size="12.0" fill="#000">0.75</text>
<line x1="289.00" y1="552.00" x2="289.00" y2="554.00" stroke="#333" stroke-width="0.9"/>
<text transform="translate(289.00,564.40) scale(1.0,1)" text-anchor="middle" font-size="12.0" fill="#000">1.00</text>
<text transform="translate(169.40,577.00) scale(1.0,1)" text-anchor="middle" font-size="12.1" fill="#000">R² – DL</text>
<text transform="translate(9.50,438.80) rotate(-90) scale(1,1.0)" text-anchor="middle" font-size="11.9" fill="#000">R² – linear</text>
<line x1="234.80" y1="522.50" x2="245.90" y2="522.50" stroke="rgba(35,130,130,0.45)" stroke-width="1.5"/>
<circle cx="240.50" cy="522.50" r="1.6" fill="#1f7d7c" stroke="#fff" stroke-width="0.9"/>
<text transform="translate(248.60,525.20) scale(0.97,1)" text-anchor="start" font-size="7.6" fill="#111">Not significant</text>
<line x1="234.80" y1="536.00" x2="245.90" y2="536.00" stroke="rgba(228,26,28,0.4)" stroke-width="1.5"/>
<circle cx="240.50" cy="536.00" r="1.6" fill="#e41a1c" stroke="#fff" stroke-width="0.9"/>
<text transform="translate(248.60,538.70) scale(0.97,1)" text-anchor="start" font-size="7.6" fill="#111">Significant</text>
<text transform="translate(331.10,314.60) scale(1.0,1)" text-anchor="start" font-size="19" fill="#000" font-weight="bold">e</text>
<line x1="429.38" y1="322.40" x2="429.38" y2="552.40" stroke="#ebebeb" stroke-width="0.5"/>
<line x1="478.86" y1="322.40" x2="478.86" y2="552.40" stroke="#ebebeb" stroke-width="0.5"/>
<line x1="528.34" y1="322.40" x2="528.34" y2="552.40" stroke="#ebebeb" stroke-width="0.5"/>
<line x1="577.82" y1="322.40" x2="577.82" y2="552.40" stroke="#ebebeb" stroke-width="0.5"/>
<line x1="627.30" y1="322.40" x2="627.30" y2="552.40" stroke="#ebebeb" stroke-width="0.5"/>
<line x1="392.50" y1="521.40" x2="664.40" y2="521.40" stroke="#ebebeb" stroke-width="0.5"/>
<line x1="392.50" y1="479.40" x2="664.40" y2="479.40" stroke="#ebebeb" stroke-width="0.5"/>
<line x1="392.50" y1="437.40" x2="664.40" y2="437.40" stroke="#ebebeb" stroke-width="0.5"/>
<line x1="392.50" y1="395.40" x2="664.40" y2="395.40" stroke="#ebebeb" stroke-width="0.5"/>
<line x1="392.50" y1="353.40" x2="664.40" y2="353.40" stroke="#ebebeb" stroke-width="0.5"/>
<line x1="404.64" y1="322.40" x2="404.64" y2="552.40" stroke="#ebebeb" stroke-width="0.9"/>
<line x1="454.12" y1="322.40" x2="454.12" y2="552.40" stroke="#ebebeb" stroke-width="0.9"/>
<line x1="503.60" y1="322.40" x2="503.60" y2="552.40" stroke="#ebebeb" stroke-width="0.9"/>
<line x1="553.08" y1="322.40" x2="553.08" y2="552.40" stroke="#ebebeb" stroke-width="0.9"/>
<line x1="602.56" y1="322.40" x2="602.56" y2="552.40" stroke="#ebebeb" stroke-width="0.9"/>
<line x1="652.04" y1="322.40" x2="652.04" y2="552.40" stroke="#ebebeb" stroke-width="0.9"/>
<line x1="392.50" y1="542.40" x2="664.40" y2="542.40" stroke="#ebebeb" stroke-width="0.9"/>
<line x1="392.50" y1="500.40" x2="664.40" y2="500.40" stroke="#ebebeb" stroke-width="0.9"/>
<line x1="392.50" y1="458.40" x2="664.40" y2="458.40" stroke="#ebebeb" stroke-width="0.9"/>
<line x1="392.50" y1="416.40" x2="664.40" y2="416.40" stroke="#ebebeb" stroke-width="0.9"/>
<line x1="392.50" y1="374.40" x2="664.40" y2="374.40" stroke="#ebebeb" stroke-width="0.9"/>
<line x1="392.50" y1="332.40" x2="664.40" y2="332.40" stroke="#ebebeb" stroke-width="0.9"/>
<line x1="503.40" y1="322.40" x2="503.40" y2="552.40" stroke="#666" stroke-width="1.0" stroke-dasharray="3.1,3.1" stroke-dashoffset="-1.1"/>
<line x1="392.50" y1="458.40" x2="664.40" y2="458.40" stroke="#666" stroke-width="1.0" stroke-dasharray="3.1,3.1" stroke-dashoffset="-0.3"/>
<circle cx="553.70" cy="355.00" r="1.75" fill="#80cbc7" stroke="#fff" stroke-width="0.4"/>
<circle cx="550.30" cy="359.30" r="1.75" fill="#80cbc7" stroke="#fff" stroke-width="0.4"/>
<circle cx="544.50" cy="361.40" r="1.75" fill="#80cbc7" stroke="#fff" stroke-width="0.4"/>
<circle cx="541.60" cy="363.20" r="1.75" fill="#80cbc7" stroke="#fff" stroke-width="0.4"/>
<circle cx="548.80" cy="363.20" r="1.75" fill="#80cbc7" stroke="#fff" stroke-width="0.4"/>
<circle cx="556.40" cy="362.40" r="1.75" fill="#80cbc7" stroke="#fff" stroke-width="0.4"/>
<circle cx="531.20" cy="363.80" r="1.75" fill="#80cbc7" stroke="#fff" stroke-width="0.4"/>
<circle cx="533.80" cy="364.30" r="1.75" fill="#80cbc7" stroke="#fff" stroke-width="0.4"/>
<circle cx="562.60" cy="366.30" r="1.75" fill="#80cbc7" stroke="#fff" stroke-width="0.4"/>
<circle cx="555.80" cy="368.40" r="1.75" fill="#80cbc7" stroke="#fff" stroke-width="0.4"/>
<circle cx="531.20" cy="369.00" r="1.75" fill="#80cbc7" stroke="#fff" stroke-width="0.4"/>
<circle cx="548.20" cy="371.60" r="1.75" fill="#80cbc7" stroke="#fff" stroke-width="0.4"/>
<circle cx="517.40" cy="374.10" r="1.75" fill="#80cbc7" stroke="#fff" stroke-width="0.4"/>
<circle cx="548.20" cy="378.60" r="1.75" fill="#80cbc7" stroke="#fff" stroke-width="0.4"/>
<circle cx="545.50" cy="379.80" r="1.75" fill="#80cbc7" stroke="#fff" stroke-width="0.4"/>
<circle cx="525.60" cy="382.70" r="1.75" fill="#80cbc7" stroke="#fff" stroke-width="0.4"/>
<circle cx="517.40" cy="391.50" r="1.75" fill="#80cbc7" stroke="#fff" stroke-width="0.4"/>
<circle cx="531.80" cy="392.00" r="1.75" fill="#80cbc7" stroke="#fff" stroke-width="0.4"/>
<circle cx="537.50" cy="395.00" r="1.75" fill="#80cbc7" stroke="#fff" stroke-width="0.4"/>
<circle cx="529.10" cy="396.70" r="1.75" fill="#80cbc7" stroke="#fff" stroke-width="0.4"/>
<circle cx="532.40" cy="397.70" r="1.75" fill="#80cbc7" stroke="#fff" stroke-width="0.4"/>
<circle cx="505.70" cy="399.10" r="1.75" fill="#80cbc7" stroke="#fff" stroke-width="0.4"/>
<circle cx="551.30" cy="400.20" r="1.75" fill="#80cbc7" stroke="#fff" stroke-width="0.4"/>
<circle cx="551.70" cy="403.80" r="1.75" fill="#80cbc7" stroke="#fff" stroke-width="0.4"/>
<circle cx="543.10" cy="402.80" r="1.75" fill="#80cbc7" stroke="#fff" stroke-width="0.4"/>
<circle cx="573.20" cy="405.30" r="1.75" fill="#80cbc7" stroke="#fff" stroke-width="0.4"/>
<circle cx="519.50" cy="405.90" r="1.75" fill="#80cbc7" stroke="#fff" stroke-width="0.4"/>
<circle cx="525.60" cy="409.00" r="1.75" fill="#80cbc7" stroke="#fff" stroke-width="0.4"/>
<circle cx="541.60" cy="409.00" r="1.75" fill="#80cbc7" stroke="#fff" stroke-width="0.4"/>
<circle cx="519.50" cy="410.60" r="1.75" fill="#80cbc7" stroke="#fff" stroke-width="0.4"/>
<circle cx="534.50" cy="413.70" r="1.75" fill="#80cbc7" stroke="#fff" stroke-width="0.4"/>
<circle cx="521.10" cy="416.20" r="1.75" fill="#80cbc7" stroke="#fff" stroke-width="0.4"/>
<circle cx="510.90" cy="419.60" r="1.75" fill="#80cbc7" stroke="#fff" stroke-width="0.4"/>
<circle cx="513.70" cy="420.30" r="1.75" fill="#80cbc7" stroke="#fff" stroke-width="0.4"/>
<circle cx="516.40" cy="420.70" r="1.75" fill="#80cbc7" stroke="#fff" stroke-width="0.4"/>
<circle cx="548.60" cy="428.50" r="1.75" fill="#80cbc7" stroke="#fff" stroke-width="0.4"/>
<circle cx="512.30" cy="426.40" r="1.75" fill="#80cbc7" stroke="#fff" stroke-width="0.4"/>
<circle cx="518.50" cy="427.40" r="1.75" fill="#80cbc7" stroke="#fff" stroke-width="0.4"/>
<circle cx="521.50" cy="428.10" r="1.75" fill="#80cbc7" stroke="#fff" stroke-width="0.4"/>
<circle cx="529.30" cy="429.10" r="1.75" fill="#80cbc7" stroke="#fff" stroke-width="0.4"/>
<circle cx="515.00" cy="429.90" r="1.75" fill="#80cbc7" stroke="#fff" stroke-width="0.4"/>
<circle cx="505.10" cy="430.50" r="1.75" fill="#80cbc7" stroke="#fff" stroke-width="0.4"/>
<circle cx="532.80" cy="432.00" r="1.75" fill="#80cbc7" stroke="#fff" stroke-width="0.4"/>
<circle cx="513.70" cy="433.60" r="1.75" fill="#80cbc7" stroke="#fff" stroke-width="0.4"/>
<circle cx="520.50" cy="432.60" r="1.75" fill="#80cbc7" stroke="#fff" stroke-width="0.4"/>
<circle cx="502.70" cy="434.20" r="1.75" fill="#80cbc7" stroke="#fff" stroke-width="0.4"/>
<circle cx="515.40" cy="435.60" r="1.75" fill="#80cbc7" stroke="#fff" stroke-width="0.4"/>
<circle cx="545.70" cy="435.20" r="1.75" fill="#80cbc7" stroke="#fff" stroke-width="0.4"/>
<circle cx="520.50" cy="437.70" r="1.75" fill="#80cbc7" stroke="#fff" stroke-width="0.4"/>
<circle cx="499.00" cy="439.70" r="1.75" fill="#80cbc7" stroke="#fff" stroke-width="0.4"/>
<circle cx="509.20" cy="442.40" r="1.75" fill="#80cbc7" stroke="#fff" stroke-width="0.4"/>
<circle cx="503.10" cy="442.40" r="1.75" fill="#80cbc7" stroke="#fff" stroke-width="0.4"/>
<circle cx="514.40" cy="442.80" r="1.75" fill="#80cbc7" stroke="#fff" stroke-width="0.4"/>
<circle cx="517.40" cy="443.20" r="1.75" fill="#80cbc7" stroke="#fff" stroke-width="0.4"/>
<circle cx="523.60" cy="441.80" r="1.75" fill="#80cbc7" stroke="#fff" stroke-width="0.4"/>
<circle cx="534.30" cy="441.20" r="1.75" fill="#80cbc7" stroke="#fff" stroke-width="0.4"/>
<circle cx="490.80" cy="449.00" r="1.75" fill="#80cbc7" stroke="#fff" stroke-width="0.4"/>
<circle cx="501.00" cy="447.30" r="1.75" fill="#80cbc7" stroke="#fff" stroke-width="0.4"/>
<circle cx="507.20" cy="448.00" r="1.75" fill="#80cbc7" stroke="#fff" stroke-width="0.4"/>
<circle cx="519.50" cy="448.00" r="1.75" fill="#80cbc7" stroke="#fff" stroke-width="0.4"/>
<circle cx="530.80" cy="446.50" r="1.75" fill="#80cbc7" stroke="#fff" stroke-width="0.4"/>
<circle cx="536.30" cy="438.30" r="1.75" fill="#80cbc7" stroke="#fff" stroke-width="0.4"/>
<circle cx="490.42" cy="492.12" r="1.75" fill="#80cbc7" stroke="#fff" stroke-width="0.4"/>
<circle cx="515.94" cy="462.32" r="1.75" fill="#80cbc7" stroke="#fff" stroke-width="0.4"/>
<circle cx="489.22" cy="483.64" r="1.75" fill="#80cbc7" stroke="#fff" stroke-width="0.4"/>
<circle cx="510.00" cy="497.86" r="1.75" fill="#80cbc7" stroke="#fff" stroke-width="0.4"/>
<circle cx="490.52" cy="458.05" r="1.75" fill="#80cbc7" stroke="#fff" stroke-width="0.4"/>
<circle cx="512.62" cy="483.95" r="1.75" fill="#80cbc7" stroke="#fff" stroke-width="0.4"/>
<circle cx="522.14" cy="489.96" r="1.75" fill="#80cbc7" stroke="#fff" stroke-width="0.4"/>
<circle cx="503.33" cy="472.95" r="1.75" fill="#80cbc7" stroke="#fff" stroke-width="0.4"/>
<circle cx="534.06" cy="458.62" r="1.75" fill="#80cbc7" stroke="#fff" stroke-width="0.4"/>
<circle cx="495.47" cy="458.93" r="1.75" fill="#80cbc7" stroke="#fff" stroke-width="0.4"/>
<circle cx="505.60" cy="480.46" r="1.75" fill="#80cbc7" stroke="#fff" stroke-width="0.4"/>
<circle cx="500.53" cy="478.54" r="1.75" fill="#80cbc7" stroke="#fff" stroke-width="0.4"/>
<circle cx="507.64" cy="490.67" r="1.75" fill="#80cbc7" stroke="#fff" stroke-width="0.4"/>
<circle cx="517.11" cy="476.52" r="1.75" fill="#80cbc7" stroke="#fff" stroke-width="0.4"/>
<circle cx="483.92" cy="501.69" r="1.75" fill="#80cbc7" stroke="#fff" stroke-width="0.4"/>
<circle cx="488.17" cy="481.96" r="1.75" fill="#80cbc7" stroke="#fff" stroke-width="0.4"/>
<circle cx="487.55" cy="485.78" r="1.75" fill="#80cbc7" stroke="#fff" stroke-width="0.4"/>
<circle cx="495.55" cy="486.44" r="1.75" fill="#80cbc7" stroke="#fff" stroke-width="0.4"/>
<circle cx="542.45" cy="459.68" r="1.75" fill="#80cbc7" stroke="#fff" stroke-width="0.4"/>
<circle cx="505.71" cy="494.14" r="1.75" fill="#80cbc7" stroke="#fff" stroke-width="0.4"/>
<circle cx="522.23" cy="484.74" r="1.75" fill="#80cbc7" stroke="#fff" stroke-width="0.4"/>
<circle cx="486.45" cy="509.34" r="1.75" fill="#80cbc7" stroke="#fff" stroke-width="0.4"/>
<circle cx="482.59" cy="521.56" r="1.75" fill="#80cbc7" stroke="#fff" stroke-width="0.4"/>
<circle cx="504.72" cy="477.35" r="1.75" fill="#80cbc7" stroke="#fff" stroke-width="0.4"/>
<circle cx="510.82" cy="518.42" r="1.75" fill="#80cbc7" stroke="#fff" stroke-width="0.4"/>
<circle cx="472.83" cy="503.16" r="1.75" fill="#80cbc7" stroke="#fff" stroke-width="0.4"/>
<circle cx="500.92" cy="484.40" r="1.75" fill="#80cbc7" stroke="#fff" stroke-width="0.4"/>
<circle cx="490.78" cy="458.56" r="1.75" fill="#80cbc7" stroke="#fff" stroke-width="0.4"/>
<circle cx="503.89" cy="486.91" r="1.75" fill="#80cbc7" stroke="#fff" stroke-width="0.4"/>
<circle cx="504.79" cy="467.67" r="1.75" fill="#80cbc7" stroke="#fff" stroke-width="0.4"/>
<circle cx="504.62" cy="487.34" r="1.75" fill="#80cbc7" stroke="#fff" stroke-width="0.4"/>
<circle cx="523.60" cy="482.65" r="1.75" fill="#80cbc7" stroke="#fff" stroke-width="0.4"/>
<circle cx="510.96" cy="498.48" r="1.75" fill="#80cbc7" stroke="#fff" stroke-width="0.4"/>
<circle cx="497.42" cy="485.53" r="1.75" fill="#80cbc7" stroke="#fff" stroke-width="0.4"/>
<circle cx="503.81" cy="467.59" r="1.75" fill="#80cbc7" stroke="#fff" stroke-width="0.4"/>
<circle cx="500.96" cy="471.66" r="1.75" fill="#80cbc7" stroke="#fff" stroke-width="0.4"/>
<circle cx="497.51" cy="487.92" r="1.75" fill="#80cbc7" stroke="#fff" stroke-width="0.4"/>
<circle cx="507.73" cy="460.15" r="1.75" fill="#80cbc7" stroke="#fff" stroke-width="0.4"/>
<circle cx="510.43" cy="466.02" r="1.75" fill="#80cbc7" stroke="#fff" stroke-width="0.4"/>
<circle cx="486.73" cy="510.77" r="1.75" fill="#80cbc7" stroke="#fff" stroke-width="0.4"/>
<circle cx="501.18" cy="472.23" r="1.75" fill="#80cbc7" stroke="#fff" stroke-width="0.4"/>
<circle cx="512.45" cy="473.42" r="1.75" fill="#80cbc7" stroke="#fff" stroke-width="0.4"/>
<circle cx="503.47" cy="513.49" r="1.75" fill="#80cbc7" stroke="#fff" stroke-width="0.4"/>
<circle cx="499.91" cy="495.11" r="1.75" fill="#80cbc7" stroke="#fff" stroke-width="0.4"/>
<circle cx="508.98" cy="479.90" r="1.75" fill="#80cbc7" stroke="#fff" stroke-width="0.4"/>
<circle cx="497.05" cy="473.85" r="1.75" fill="#80cbc7" stroke="#fff" stroke-width="0.4"/>
<circle cx="495.58" cy="470.40" r="1.75" fill="#80cbc7" stroke="#fff" stroke-width="0.4"/>
<circle cx="476.67" cy="505.63" r="1.75" fill="#80cbc7" stroke="#fff" stroke-width="0.4"/>
<circle cx="489.54" cy="487.55" r="1.75" fill="#80cbc7" stroke="#fff" stroke-width="0.4"/>
<circle cx="509.39" cy="466.14" r="1.75" fill="#80cbc7" stroke="#fff" stroke-width="0.4"/>
<circle cx="518.75" cy="508.20" r="1.75" fill="#80cbc7" stroke="#fff" stroke-width="0.4"/>
<circle cx="508.10" cy="462.30" r="1.75" fill="#80cbc7" stroke="#fff" stroke-width="0.4"/>
<circle cx="511.46" cy="505.87" r="1.75" fill="#80cbc7" stroke="#fff" stroke-width="0.4"/>
<circle cx="511.58" cy="469.84" r="1.75" fill="#80cbc7" stroke="#fff" stroke-width="0.4"/>
<circle cx="527.13" cy="454.69" r="1.75" fill="#80cbc7" stroke="#fff" stroke-width="0.4"/>
<circle cx="494.93" cy="469.46" r="1.75" fill="#80cbc7" stroke="#fff" stroke-width="0.4"/>
<circle cx="507.07" cy="480.30" r="1.75" fill="#80cbc7" stroke="#fff" stroke-width="0.4"/>
<circle cx="512.76" cy="470.74" r="1.75" fill="#80cbc7" stroke="#fff" stroke-width="0.4"/>
<circle cx="502.00" cy="464.07" r="1.75" fill="#80cbc7" stroke="#fff" stroke-width="0.4"/>
<circle cx="512.79" cy="503.23" r="1.75" fill="#80cbc7" stroke="#fff" stroke-width="0.4"/>
<circle cx="512.02" cy="480.71" r="1.75" fill="#80cbc7" stroke="#fff" stroke-width="0.4"/>
<circle cx="483.55" cy="473.04" r="1.75" fill="#80cbc7" stroke="#fff" stroke-width="0.4"/>
<circle cx="497.48" cy="470.34" r="1.75" fill="#80cbc7" stroke="#fff" stroke-width="0.4"/>
<circle cx="511.24" cy="468.09" r="1.75" fill="#80cbc7" stroke="#fff" stroke-width="0.4"/>
<circle cx="513.56" cy="475.54" r="1.75" fill="#80cbc7" stroke="#fff" stroke-width="0.4"/>
<circle cx="500.67" cy="482.15" r="1.75" fill="#80cbc7" stroke="#fff" stroke-width="0.4"/>
<circle cx="509.43" cy="493.23" r="1.75" fill="#80cbc7" stroke="#fff" stroke-width="0.4"/>
<circle cx="499.01" cy="475.77" r="1.75" fill="#80cbc7" stroke="#fff" stroke-width="0.4"/>
<circle cx="488.82" cy="517.83" r="1.75" fill="#80cbc7" stroke="#fff" stroke-width="0.4"/>
<circle cx="521.20" cy="466.74" r="1.75" fill="#80cbc7" stroke="#fff" stroke-width="0.4"/>
<circle cx="499.00" cy="455.34" r="1.75" fill="#80cbc7" stroke="#fff" stroke-width="0.4"/>
<circle cx="506.45" cy="481.31" r="1.75" fill="#80cbc7" stroke="#fff" stroke-width="0.4"/>
<circle cx="529.59" cy="471.56" r="1.75" fill="#80cbc7" stroke="#fff" stroke-width="0.4"/>
<circle cx="520.71" cy="474.46" r="1.75" fill="#80cbc7" stroke="#fff" stroke-width="0.4"/>
<circle cx="485.99" cy="490.12" r="1.75" fill="#80cbc7" stroke="#fff" stroke-width="0.4"/>
<circle cx="517.37" cy="483.79" r="1.75" fill="#80cbc7" stroke="#fff" stroke-width="0.4"/>
<circle cx="503.05" cy="447.00" r="1.75" fill="#80cbc7" stroke="#fff" stroke-width="0.4"/>
<circle cx="513.72" cy="464.14" r="1.75" fill="#80cbc7" stroke="#fff" stroke-width="0.4"/>
<circle cx="494.70" cy="442.27" r="1.75" fill="#80cbc7" stroke="#fff" stroke-width="0.4"/>
<circle cx="486.86" cy="503.97" r="1.75" fill="#80cbc7" stroke="#fff" stroke-width="0.4"/>
<circle cx="514.31" cy="453.43" r="1.75" fill="#80cbc7" stroke="#fff" stroke-width="0.4"/>
<circle cx="496.52" cy="467.51" r="1.75" fill="#80cbc7" stroke="#fff" stroke-width="0.4"/>
<circle cx="490.82" cy="470.39" r="1.75" fill="#80cbc7" stroke="#fff" stroke-width="0.4"/>
<circle cx="518.88" cy="485.48" r="1.75" fill="#80cbc7" stroke="#fff" stroke-width="0.4"/>
<circle cx="528.15" cy="465.44" r="1.75" fill="#80cbc7" stroke="#fff" stroke-width="0.4"/>
<circle cx="502.94" cy="458.70" r="1.75" fill="#80cbc7" stroke="#fff" stroke-width="0.4"/>
<circle cx="507.04" cy="469.60" r="1.75" fill="#80cbc7" stroke="#fff" stroke-width="0.4"/>
<circle cx="504.50" cy="472.99" r="1.75" fill="#80cbc7" stroke="#fff" stroke-width="0.4"/>
<circle cx="493.91" cy="468.97" r="1.75" fill="#80cbc7" stroke="#fff" stroke-width="0.4"/>
<circle cx="506.71" cy="508.29" r="1.75" fill="#80cbc7" stroke="#fff" stroke-width="0.4"/>
<circle cx="488.62" cy="485.73" r="1.75" fill="#80cbc7" stroke="#fff" stroke-width="0.4"/>
<circle cx="512.26" cy="466.95" r="1.75" fill="#80cbc7" stroke="#fff" stroke-width="0.4"/>
<circle cx="514.21" cy="474.79" r="1.75" fill="#80cbc7" stroke="#fff" stroke-width="0.4"/>
<circle cx="501.12" cy="467.21" r="1.75" fill="#80cbc7" stroke="#fff" stroke-width="0.4"/>
<circle cx="516.59" cy="511.22" r="1.75" fill="#80cbc7" stroke="#fff" stroke-width="0.4"/>
<circle cx="497.84" cy="462.46" r="1.75" fill="#80cbc7" stroke="#fff" stroke-width="0.4"/>
<circle cx="512.46" cy="462.97" r="1.75" fill="#80cbc7" stroke="#fff" stroke-width="0.4"/>
<circle cx="500.64" cy="468.06" r="1.75" fill="#80cbc7" stroke="#fff" stroke-width="0.4"/>
<circle cx="485.61" cy="502.14" r="1.75" fill="#80cbc7" stroke="#fff" stroke-width="0.4"/>
<circle cx="495.80" cy="473.11" r="1.75" fill="#80cbc7" stroke="#fff" stroke-width="0.4"/>
<circle cx="513.33" cy="491.98" r="1.75" fill="#80cbc7" stroke="#fff" stroke-width="0.4"/>
<circle cx="516.13" cy="438.88" r="1.75" fill="#80cbc7" stroke="#fff" stroke-width="0.4"/>
<circle cx="513.31" cy="468.91" r="1.75" fill="#80cbc7" stroke="#fff" stroke-width="0.4"/>
<circle cx="510.62" cy="494.68" r="1.75" fill="#80cbc7" stroke="#fff" stroke-width="0.4"/>
<circle cx="503.24" cy="492.54" r="1.75" fill="#80cbc7" stroke="#fff" stroke-width="0.4"/>
<circle cx="490.67" cy="499.01" r="1.75" fill="#80cbc7" stroke="#fff" stroke-width="0.4"/>
<circle cx="494.50" cy="483.25" r="1.75" fill="#80cbc7" stroke="#fff" stroke-width="0.4"/>
<circle cx="500.17" cy="482.34" r="1.75" fill="#80cbc7" stroke="#fff" stroke-width="0.4"/>
<circle cx="527.40" cy="475.68" r="1.75" fill="#80cbc7" stroke="#fff" stroke-width="0.4"/>
<circle cx="521.95" cy="478.28" r="1.75" fill="#80cbc7" stroke="#fff" stroke-width="0.4"/>
<circle cx="495.57" cy="474.56" r="1.75" fill="#80cbc7" stroke="#fff" stroke-width="0.4"/>
<circle cx="505.08" cy="473.87" r="1.75" fill="#80cbc7" stroke="#fff" stroke-width="0.4"/>
<circle cx="512.82" cy="491.11" r="1.75" fill="#80cbc7" stroke="#fff" stroke-width="0.4"/>
<circle cx="525.88" cy="474.17" r="1.75" fill="#80cbc7" stroke="#fff" stroke-width="0.4"/>
<circle cx="505.00" cy="488.96" r="1.75" fill="#80cbc7" stroke="#fff" stroke-width="0.4"/>
<circle cx="520.00" cy="479.27" r="1.75" fill="#80cbc7" stroke="#fff" stroke-width="0.4"/>
<circle cx="489.19" cy="494.47" r="1.75" fill="#80cbc7" stroke="#fff" stroke-width="0.4"/>
<circle cx="492.77" cy="452.77" r="1.75" fill="#80cbc7" stroke="#fff" stroke-width="0.4"/>
<circle cx="521.38" cy="462.31" r="1.75" fill="#80cbc7" stroke="#fff" stroke-width="0.4"/>
<circle cx="508.59" cy="498.10" r="1.75" fill="#80cbc7" stroke="#fff" stroke-width="0.4"/>
<circle cx="505.23" cy="480.37" r="1.75" fill="#80cbc7" stroke="#fff" stroke-width="0.4"/>
<circle cx="486.58" cy="491.79" r="1.75" fill="#80cbc7" stroke="#fff" stroke-width="0.4"/>
<circle cx="508.45" cy="490.85" r="1.75" fill="#80cbc7" stroke="#fff" stroke-width="0.4"/>
<circle cx="494.44" cy="508.56" r="1.75" fill="#80cbc7" stroke="#fff" stroke-width="0.4"/>
<circle cx="488.75" cy="481.59" r="1.75" fill="#80cbc7" stroke="#fff" stroke-width="0.4"/>
<circle cx="504.95" cy="457.44" r="1.75" fill="#80cbc7" stroke="#fff" stroke-width="0.4"/>
<circle cx="527.30" cy="492.24" r="1.75" fill="#80cbc7" stroke="#fff" stroke-width="0.4"/>
<circle cx="503.45" cy="467.89" r="1.75" fill="#80cbc7" stroke="#fff" stroke-width="0.4"/>
<circle cx="489.06" cy="493.26" r="1.75" fill="#80cbc7" stroke="#fff" stroke-width="0.4"/>
<circle cx="513.94" cy="463.07" r="1.75" fill="#80cbc7" stroke="#fff" stroke-width="0.4"/>
<circle cx="483.03" cy="470.25" r="1.75" fill="#80cbc7" stroke="#fff" stroke-width="0.4"/>
<circle cx="488.24" cy="492.11" r="1.75" fill="#80cbc7" stroke="#fff" stroke-width="0.4"/>
<circle cx="509.64" cy="506.94" r="1.75" fill="#80cbc7" stroke="#fff" stroke-width="0.4"/>
<circle cx="511.36" cy="448.34" r="1.75" fill="#80cbc7" stroke="#fff" stroke-width="0.4"/>
<circle cx="510.14" cy="517.98" r="1.75" fill="#80cbc7" stroke="#fff" stroke-width="0.4"/>
<circle cx="535.92" cy="456.80" r="1.75" fill="#80cbc7" stroke="#fff" stroke-width="0.4"/>
<circle cx="484.70" cy="478.75" r="1.75" fill="#80cbc7" stroke="#fff" stroke-width="0.4"/>
<circle cx="511.07" cy="460.16" r="1.75" fill="#80cbc7" stroke="#fff" stroke-width="0.4"/>
<circle cx="515.26" cy="484.00" r="1.75" fill="#80cbc7" stroke="#fff" stroke-width="0.4"/>
<circle cx="485.81" cy="475.71" r="1.75" fill="#80cbc7" stroke="#fff" stroke-width="0.4"/>
<circle cx="501.75" cy="479.64" r="1.75" fill="#80cbc7" stroke="#fff" stroke-width="0.4"/>
<circle cx="506.02" cy="470.40" r="1.75" fill="#80cbc7" stroke="#fff" stroke-width="0.4"/>
<circle cx="506.68" cy="465.06" r="1.75" fill="#80cbc7" stroke="#fff" stroke-width="0.4"/>
<circle cx="494.19" cy="513.58" r="1.75" fill="#80cbc7" stroke="#fff" stroke-width="0.4"/>
<circle cx="508.64" cy="485.04" r="1.75" fill="#80cbc7" stroke="#fff" stroke-width="0.4"/>
<circle cx="486.16" cy="482.99" r="1.75" fill="#80cbc7" stroke="#fff" stroke-width="0.4"/>
<circle cx="513.92" cy="447.40" r="1.75" fill="#80cbc7" stroke="#fff" stroke-width="0.4"/>
<circle cx="476.46" cy="493.12" r="1.75" fill="#80cbc7" stroke="#fff" stroke-width="0.4"/>
<circle cx="511.48" cy="482.23" r="1.75" fill="#80cbc7" stroke="#fff" stroke-width="0.4"/>
<circle cx="495.11" cy="479.47" r="1.75" fill="#80cbc7" stroke="#fff" stroke-width="0.4"/>
<circle cx="502.32" cy="450.18" r="1.75" fill="#80cbc7" stroke="#fff" stroke-width="0.4"/>
<circle cx="512.68" cy="452.55" r="1.75" fill="#80cbc7" stroke="#fff" stroke-width="0.4"/>
<circle cx="500.24" cy="498.42" r="1.75" fill="#80cbc7" stroke="#fff" stroke-width="0.4"/>
<circle cx="510.32" cy="513.72" r="1.75" fill="#80cbc7" stroke="#fff" stroke-width="0.4"/>
<circle cx="518.24" cy="466.84" r="1.75" fill="#80cbc7" stroke="#fff" stroke-width="0.4"/>
<circle cx="497.59" cy="475.11" r="1.75" fill="#80cbc7" stroke="#fff" stroke-width="0.4"/>
<circle cx="491.24" cy="478.66" r="1.75" fill="#80cbc7" stroke="#fff" stroke-width="0.4"/>
<circle cx="502.35" cy="476.02" r="1.75" fill="#80cbc7" stroke="#fff" stroke-width="0.4"/>
<circle cx="518.10" cy="467.10" r="1.75" fill="#80cbc7" stroke="#fff" stroke-width="0.4"/>
<circle cx="487.74" cy="507.06" r="1.75" fill="#80cbc7" stroke="#fff" stroke-width="0.4"/>
<circle cx="492.16" cy="474.52" r="1.75" fill="#80cbc7" stroke="#fff" stroke-width="0.4"/>
<circle cx="502.96" cy="471.69" r="1.75" fill="#80cbc7" stroke="#fff" stroke-width="0.4"/>
<circle cx="492.96" cy="478.20" r="1.75" fill="#80cbc7" stroke="#fff" stroke-width="0.4"/>
<circle cx="529.62" cy="454.17" r="1.75" fill="#80cbc7" stroke="#fff" stroke-width="0.4"/>
<circle cx="502.93" cy="501.61" r="1.75" fill="#80cbc7" stroke="#fff" stroke-width="0.4"/>
<circle cx="513.06" cy="489.64" r="1.75" fill="#80cbc7" stroke="#fff" stroke-width="0.4"/>
<circle cx="494.56" cy="485.15" r="1.75" fill="#80cbc7" stroke="#fff" stroke-width="0.4"/>
<circle cx="510.24" cy="501.75" r="1.75" fill="#80cbc7" stroke="#fff" stroke-width="0.4"/>
<circle cx="509.90" cy="470.68" r="1.75" fill="#80cbc7" stroke="#fff" stroke-width="0.4"/>
<circle cx="504.95" cy="473.49" r="1.75" fill="#80cbc7" stroke="#fff" stroke-width="0.4"/>
<circle cx="507.34" cy="490.44" r="1.75" fill="#80cbc7" stroke="#fff" stroke-width="0.4"/>
<circle cx="500.59" cy="463.21" r="1.75" fill="#80cbc7" stroke="#fff" stroke-width="0.4"/>
<circle cx="494.67" cy="504.83" r="1.75" fill="#80cbc7" stroke="#fff" stroke-width="0.4"/>
<circle cx="519.23" cy="491.49" r="1.75" fill="#80cbc7" stroke="#fff" stroke-width="0.4"/>
<circle cx="514.35" cy="490.48" r="1.75" fill="#80cbc7" stroke="#fff" stroke-width="0.4"/>
<circle cx="504.47" cy="491.53" r="1.75" fill="#80cbc7" stroke="#fff" stroke-width="0.4"/>
<circle cx="492.40" cy="479.39" r="1.75" fill="#80cbc7" stroke="#fff" stroke-width="0.4"/>
<circle cx="496.06" cy="496.66" r="1.75" fill="#80cbc7" stroke="#fff" stroke-width="0.4"/>
<circle cx="497.83" cy="478.84" r="1.75" fill="#80cbc7" stroke="#fff" stroke-width="0.4"/>
<circle cx="509.10" cy="503.49" r="1.75" fill="#80cbc7" stroke="#fff" stroke-width="0.4"/>
<circle cx="495.39" cy="463.04" r="1.75" fill="#80cbc7" stroke="#fff" stroke-width="0.4"/>
<circle cx="513.90" cy="451.17" r="1.75" fill="#80cbc7" stroke="#fff" stroke-width="0.4"/>
<circle cx="506.55" cy="510.34" r="1.75" fill="#80cbc7" stroke="#fff" stroke-width="0.4"/>
<circle cx="500.48" cy="496.06" r="1.75" fill="#80cbc7" stroke="#fff" stroke-width="0.4"/>
<circle cx="511.64" cy="468.08" r="1.75" fill="#80cbc7" stroke="#fff" stroke-width="0.4"/>
<circle cx="528.54" cy="466.58" r="1.75" fill="#80cbc7" stroke="#fff" stroke-width="0.4"/>
<circle cx="510.17" cy="486.65" r="1.75" fill="#80cbc7" stroke="#fff" stroke-width="0.4"/>
<circle cx="503.19" cy="462.98" r="1.75" fill="#80cbc7" stroke="#fff" stroke-width="0.4"/>
<circle cx="522.31" cy="491.90" r="1.75" fill="#80cbc7" stroke="#fff" stroke-width="0.4"/>
<circle cx="486.60" cy="503.18" r="1.75" fill="#80cbc7" stroke="#fff" stroke-width="0.4"/>
<circle cx="512.70" cy="488.97" r="1.75" fill="#80cbc7" stroke="#fff" stroke-width="0.4"/>
<circle cx="503.64" cy="474.85" r="1.75" fill="#80cbc7" stroke="#fff" stroke-width="0.4"/>
<circle cx="509.78" cy="504.98" r="1.75" fill="#80cbc7" stroke="#fff" stroke-width="0.4"/>
<circle cx="485.14" cy="485.62" r="1.75" fill="#80cbc7" stroke="#fff" stroke-width="0.4"/>
<circle cx="487.01" cy="485.44" r="1.75" fill="#80cbc7" stroke="#fff" stroke-width="0.4"/>
<circle cx="506.14" cy="484.48" r="1.75" fill="#80cbc7" stroke="#fff" stroke-width="0.4"/>
<circle cx="507.00" cy="480.34" r="1.75" fill="#80cbc7" stroke="#fff" stroke-width="0.4"/>
<circle cx="491.39" cy="476.17" r="1.75" fill="#80cbc7" stroke="#fff" stroke-width="0.4"/>
<circle cx="498.62" cy="475.88" r="1.75" fill="#80cbc7" stroke="#fff" stroke-width="0.4"/>
<circle cx="507.61" cy="489.19" r="1.75" fill="#80cbc7" stroke="#fff" stroke-width="0.4"/>
<circle cx="509.11" cy="471.85" r="1.75" fill="#80cbc7" stroke="#fff" stroke-width="0.4"/>
<circle cx="530.68" cy="485.07" r="1.75" fill="#80cbc7" stroke="#fff" stroke-width="0.4"/>
<circle cx="485.49" cy="494.86" r="1.75" fill="#80cbc7" stroke="#fff" stroke-width="0.4"/>
<circle cx="498.51" cy="500.97" r="1.75" fill="#80cbc7" stroke="#fff" stroke-width="0.4"/>
<circle cx="492.36" cy="481.47" r="1.75" fill="#80cbc7" stroke="#fff" stroke-width="0.4"/>
<circle cx="502.99" cy="476.72" r="1.75" fill="#80cbc7" stroke="#fff" stroke-width="0.4"/>
<circle cx="486.43" cy="495.78" r="1.75" fill="#80cbc7" stroke="#fff" stroke-width="0.4"/>
<circle cx="498.22" cy="488.39" r="1.75" fill="#80cbc7" stroke="#fff" stroke-width="0.4"/>
<circle cx="511.51" cy="495.82" r="1.75" fill="#80cbc7" stroke="#fff" stroke-width="0.4"/>
<circle cx="528.71" cy="471.12" r="1.75" fill="#80cbc7" stroke="#fff" stroke-width="0.4"/>
<circle cx="510.23" cy="445.23" r="1.75" fill="#80cbc7" stroke="#fff" stroke-width="0.4"/>
<circle cx="496.45" cy="466.61" r="1.75" fill="#80cbc7" stroke="#fff" stroke-width="0.4"/>
<circle cx="493.46" cy="468.90" r="1.75" fill="#80cbc7" stroke="#fff" stroke-width="0.4"/>
<circle cx="525.17" cy="464.57" r="1.75" fill="#80cbc7" stroke="#fff" stroke-width="0.4"/>
<circle cx="503.80" cy="443.00" r="1.75" fill="#80cbc7" stroke="#fff" stroke-width="0.4"/>
<circle cx="484.18" cy="511.52" r="1.75" fill="#80cbc7" stroke="#fff" stroke-width="0.4"/>
<circle cx="517.40" cy="450.60" r="1.75" fill="#80cbc7" stroke="#fff" stroke-width="0.4"/>
<circle cx="505.62" cy="456.80" r="1.75" fill="#80cbc7" stroke="#fff" stroke-width="0.4"/>
<circle cx="503.75" cy="470.67" r="1.75" fill="#80cbc7" stroke="#fff" stroke-width="0.4"/>
<circle cx="497.45" cy="500.43" r="1.75" fill="#80cbc7" stroke="#fff" stroke-width="0.4"/>
<circle cx="515.26" cy="474.36" r="1.75" fill="#80cbc7" stroke="#fff" stroke-width="0.4"/>
<circle cx="494.15" cy="460.92" r="1.75" fill="#80cbc7" stroke="#fff" stroke-width="0.4"/>
<circle cx="499.25" cy="464.41" r="1.75" fill="#80cbc7" stroke="#fff" stroke-width="0.4"/>
<circle cx="496.48" cy="459.35" r="1.75" fill="#80cbc7" stroke="#fff" stroke-width="0.4"/>
<circle cx="493.32" cy="478.93" r="1.75" fill="#80cbc7" stroke="#fff" stroke-width="0.4"/>
<circle cx="520.99" cy="470.45" r="1.75" fill="#80cbc7" stroke="#fff" stroke-width="0.4"/>
<circle cx="498.63" cy="447.79" r="1.75" fill="#80cbc7" stroke="#fff" stroke-width="0.4"/>
<circle cx="520.23" cy="474.84" r="1.75" fill="#80cbc7" stroke="#fff" stroke-width="0.4"/>
<circle cx="503.88" cy="462.64" r="1.75" fill="#80cbc7" stroke="#fff" stroke-width="0.4"/>
<circle cx="501.49" cy="483.18" r="1.75" fill="#80cbc7" stroke="#fff" stroke-width="0.4"/>
<circle cx="508.25" cy="494.91" r="1.75" fill="#80cbc7" stroke="#fff" stroke-width="0.4"/>
<circle cx="511.62" cy="483.73" r="1.75" fill="#80cbc7" stroke="#fff" stroke-width="0.4"/>
<circle cx="516.55" cy="458.11" r="1.75" fill="#80cbc7" stroke="#fff" stroke-width="0.4"/>
<circle cx="474.48" cy="489.09" r="1.75" fill="#80cbc7" stroke="#fff" stroke-width="0.4"/>
<circle cx="470.36" cy="466.06" r="1.75" fill="#80cbc7" stroke="#fff" stroke-width="0.4"/>
<circle cx="490.95" cy="455.90" r="1.75" fill="#80cbc7" stroke="#fff" stroke-width="0.4"/>
<circle cx="518.27" cy="484.37" r="1.75" fill="#80cbc7" stroke="#fff" stroke-width="0.4"/>
<circle cx="504.70" cy="471.73" r="1.75" fill="#80cbc7" stroke="#fff" stroke-width="0.4"/>
<circle cx="510.65" cy="470.08" r="1.75" fill="#80cbc7" stroke="#fff" stroke-width="0.4"/>
<circle cx="497.61" cy="483.33" r="1.75" fill="#80cbc7" stroke="#fff" stroke-width="0.4"/>
<circle cx="488.70" cy="486.00" r="1.75" fill="#80cbc7" stroke="#fff" stroke-width="0.4"/>
<circle cx="530.37" cy="483.85" r="1.75" fill="#80cbc7" stroke="#fff" stroke-width="0.4"/>
<circle cx="492.14" cy="495.55" r="1.75" fill="#80cbc7" stroke="#fff" stroke-width="0.4"/>
<circle cx="495.54" cy="470.88" r="1.75" fill="#80cbc7" stroke="#fff" stroke-width="0.4"/>
<circle cx="500.76" cy="508.68" r="1.75" fill="#80cbc7" stroke="#fff" stroke-width="0.4"/>
<circle cx="495.78" cy="475.79" r="1.75" fill="#80cbc7" stroke="#fff" stroke-width="0.4"/>
<circle cx="502.49" cy="462.22" r="1.75" fill="#80cbc7" stroke="#fff" stroke-width="0.4"/>
<circle cx="513.09" cy="475.42" r="1.75" fill="#80cbc7" stroke="#fff" stroke-width="0.4"/>
<circle cx="510.97" cy="478.20" r="1.75" fill="#80cbc7" stroke="#fff" stroke-width="0.4"/>
<circle cx="504.83" cy="457.60" r="1.75" fill="#80cbc7" stroke="#fff" stroke-width="0.4"/>
<circle cx="532.08" cy="461.96" r="1.75" fill="#80cbc7" stroke="#fff" stroke-width="0.4"/>
<circle cx="526.87" cy="487.51" r="1.75" fill="#80cbc7" stroke="#fff" stroke-width="0.4"/>
<circle cx="492.66" cy="493.35" r="1.75" fill="#80cbc7" stroke="#fff" stroke-width="0.4"/>
<circle cx="512.97" cy="471.58" r="1.75" fill="#80cbc7" stroke="#fff" stroke-width="0.4"/>
<circle cx="477.73" cy="483.21" r="1.75" fill="#80cbc7" stroke="#fff" stroke-width="0.4"/>
<circle cx="502.30" cy="456.44" r="1.75" fill="#80cbc7" stroke="#fff" stroke-width="0.4"/>
<circle cx="525.50" cy="463.44" r="1.75" fill="#80cbc7" stroke="#fff" stroke-width="0.4"/>
<circle cx="499.98" cy="473.96" r="1.75" fill="#80cbc7" stroke="#fff" stroke-width="0.4"/>
<circle cx="495.49" cy="466.30" r="1.75" fill="#80cbc7" stroke="#fff" stroke-width="0.4"/>
<circle cx="505.58" cy="483.89" r="1.75" fill="#80cbc7" stroke="#fff" stroke-width="0.4"/>
<circle cx="498.67" cy="478.82" r="1.75" fill="#80cbc7" stroke="#fff" stroke-width="0.4"/>
<circle cx="488.51" cy="495.92" r="1.75" fill="#80cbc7" stroke="#fff" stroke-width="0.4"/>
<circle cx="495.88" cy="486.31" r="1.75" fill="#80cbc7" stroke="#fff" stroke-width="0.4"/>
<circle cx="494.07" cy="472.26" r="1.75" fill="#80cbc7" stroke="#fff" stroke-width="0.4"/>
<circle cx="506.97" cy="452.20" r="1.75" fill="#80cbc7" stroke="#fff" stroke-width="0.4"/>
<circle cx="532.90" cy="464.29" r="1.75" fill="#80cbc7" stroke="#fff" stroke-width="0.4"/>
<circle cx="503.66" cy="463.42" r="1.75" fill="#80cbc7" stroke="#fff" stroke-width="0.4"/>
<circle cx="522.84" cy="497.86" r="1.75" fill="#80cbc7" stroke="#fff" stroke-width="0.4"/>
<circle cx="502.14" cy="509.76" r="1.75" fill="#80cbc7" stroke="#fff" stroke-width="0.4"/>
<circle cx="490.37" cy="473.64" r="1.75" fill="#80cbc7" stroke="#fff" stroke-width="0.4"/>
<circle cx="491.60" cy="458.59" r="1.75" fill="#80cbc7" stroke="#fff" stroke-width="0.4"/>
<circle cx="507.71" cy="490.86" r="1.75" fill="#80cbc7" stroke="#fff" stroke-width="0.4"/>
<circle cx="529.87" cy="460.66" r="1.75" fill="#80cbc7" stroke="#fff" stroke-width="0.4"/>
<circle cx="506.86" cy="472.93" r="1.75" fill="#80cbc7" stroke="#fff" stroke-width="0.4"/>
<circle cx="512.98" cy="480.16" r="1.75" fill="#80cbc7" stroke="#fff" stroke-width="0.4"/>
<circle cx="490.17" cy="497.43" r="1.75" fill="#80cbc7" stroke="#fff" stroke-width="0.4"/>
<circle cx="515.99" cy="488.03" r="1.75" fill="#80cbc7" stroke="#fff" stroke-width="0.4"/>
<circle cx="508.89" cy="479.81" r="1.75" fill="#80cbc7" stroke="#fff" stroke-width="0.4"/>
<circle cx="498.00" cy="457.92" r="1.75" fill="#80cbc7" stroke="#fff" stroke-width="0.4"/>
<circle cx="496.95" cy="467.00" r="1.75" fill="#80cbc7" stroke="#fff" stroke-width="0.4"/>
<circle cx="496.66" cy="483.46" r="1.75" fill="#80cbc7" stroke="#fff" stroke-width="0.4"/>
<circle cx="493.95" cy="510.82" r="1.75" fill="#80cbc7" stroke="#fff" stroke-width="0.4"/>
<circle cx="506.89" cy="470.11" r="1.75" fill="#80cbc7" stroke="#fff" stroke-width="0.4"/>
<circle cx="519.78" cy="496.37" r="1.75" fill="#80cbc7" stroke="#fff" stroke-width="0.4"/>
<circle cx="490.47" cy="459.95" r="1.75" fill="#80cbc7" stroke="#fff" stroke-width="0.4"/>
<circle cx="507.27" cy="497.57" r="1.75" fill="#80cbc7" stroke="#fff" stroke-width="0.4"/>
<circle cx="503.44" cy="515.55" r="1.75" fill="#80cbc7" stroke="#fff" stroke-width="0.4"/>
<circle cx="493.12" cy="504.95" r="1.75" fill="#80cbc7" stroke="#fff" stroke-width="0.4"/>
<circle cx="514.68" cy="472.12" r="1.75" fill="#80cbc7" stroke="#fff" stroke-width="0.4"/>
<circle cx="486.34" cy="476.15" r="1.75" fill="#80cbc7" stroke="#fff" stroke-width="0.4"/>
<circle cx="515.18" cy="462.86" r="1.75" fill="#80cbc7" stroke="#fff" stroke-width="0.4"/>
<circle cx="500.96" cy="486.35" r="1.75" fill="#80cbc7" stroke="#fff" stroke-width="0.4"/>
<circle cx="507.79" cy="470.68" r="1.75" fill="#80cbc7" stroke="#fff" stroke-width="0.4"/>
<circle cx="517.35" cy="485.22" r="1.75" fill="#80cbc7" stroke="#fff" stroke-width="0.4"/>
<circle cx="487.09" cy="488.89" r="1.75" fill="#80cbc7" stroke="#fff" stroke-width="0.4"/>
<circle cx="498.49" cy="514.31" r="1.75" fill="#80cbc7" stroke="#fff" stroke-width="0.4"/>
<circle cx="511.57" cy="481.26" r="1.75" fill="#80cbc7" stroke="#fff" stroke-width="0.4"/>
<circle cx="502.01" cy="471.98" r="1.75" fill="#80cbc7" stroke="#fff" stroke-width="0.4"/>
<circle cx="498.37" cy="511.68" r="1.75" fill="#80cbc7" stroke="#fff" stroke-width="0.4"/>
<circle cx="501.27" cy="463.88" r="1.75" fill="#80cbc7" stroke="#fff" stroke-width="0.4"/>
<circle cx="511.24" cy="489.91" r="1.75" fill="#80cbc7" stroke="#fff" stroke-width="0.4"/>
<circle cx="502.85" cy="459.52" r="1.75" fill="#80cbc7" stroke="#fff" stroke-width="0.4"/>
<circle cx="517.88" cy="493.42" r="1.75" fill="#80cbc7" stroke="#fff" stroke-width="0.4"/>
<circle cx="481.15" cy="469.43" r="1.75" fill="#80cbc7" stroke="#fff" stroke-width="0.4"/>
<circle cx="507.71" cy="460.12" r="1.75" fill="#80cbc7" stroke="#fff" stroke-width="0.4"/>
<circle cx="499.71" cy="498.93" r="1.75" fill="#80cbc7" stroke="#fff" stroke-width="0.4"/>
<circle cx="497.42" cy="496.07" r="1.75" fill="#80cbc7" stroke="#fff" stroke-width="0.4"/>
<circle cx="496.96" cy="496.92" r="1.75" fill="#80cbc7" stroke="#fff" stroke-width="0.4"/>
<circle cx="498.74" cy="489.34" r="1.75" fill="#80cbc7" stroke="#fff" stroke-width="0.4"/>
<circle cx="485.59" cy="472.44" r="1.75" fill="#80cbc7" stroke="#fff" stroke-width="0.4"/>
<circle cx="561.40" cy="348.60" r="2.4" fill="#e31a1c" stroke="none" stroke-width="0"/>
<circle cx="544.60" cy="395.60" r="2.4" fill="#e31a1c" stroke="none" stroke-width="0"/>
<circle cx="530.60" cy="410.00" r="2.4" fill="#e31a1c" stroke="none" stroke-width="0"/>
<circle cx="531.60" cy="416.00" r="2.4" fill="#e31a1c" stroke="none" stroke-width="0"/>
<circle cx="562.60" cy="426.40" r="2.4" fill="#e31a1c" stroke="none" stroke-width="0"/>
<circle cx="591.00" cy="403.60" r="2.4" fill="#e31a1c" stroke="none" stroke-width="0"/>
<text transform="translate(548.30,345.00) scale(0.9,1)" text-anchor="start" font-size="9.0" fill="#111">THBS1_MS</text>
<text transform="translate(531.30,392.00) scale(0.9,1)" text-anchor="start" font-size="9.0" fill="#111">HSPA8_MS</text>
<text transform="translate(502.70,406.60) scale(0.9,1)" text-anchor="start" font-size="9.0" fill="#111">PDIA3_MS</text>
<text transform="translate(517.70,426.00) scale(0.9,1)" text-anchor="start" font-size="9.0" fill="#111">CALM2_MS</text>
<text transform="translate(557.70,438.00) scale(0.9,1)" text-anchor="start" font-size="9.0" fill="#111">HBB_MS</text>
<text transform="translate(575.10,413.60) scale(0.9,1)" text-anchor="start" font-size="9.0" fill="#111">COL1A1_MS</text>
<rect x="392.50" y="322.40" width="271.90" height="230.00" fill="none" stroke="#555" stroke-width="1.0"/>
<line x1="390.50" y1="542.40" x2="392.50" y2="542.40" stroke="#333" stroke-width="0.9"/>
<text transform="translate(389.20,547.08) scale(1.0,1)" text-anchor="end" font-size="11.2" fill="#000">−0.2</text>
<line x1="390.50" y1="500.40" x2="392.50" y2="500.40" stroke="#333" stroke-width="0.9"/>
<text transform="translate(389.20,505.08) scale(1.0,1)" text-anchor="end" font-size="11.2" fill="#000">−0.1</text>
<line x1="390.50" y1="458.40" x2="392.50" y2="458.40" stroke="#333" stroke-width="0.9"/>
<text transform="translate(389.20,463.08) scale(1.0,1)" text-anchor="end" font-size="11.2" fill="#000">0.0</text>
<line x1="390.50" y1="416.40" x2="392.50" y2="416.40" stroke="#333" stroke-width="0.9"/>
<text transform="translate(389.20,421.08) scale(1.0,1)" text-anchor="end" font-size="11.2" fill="#000">0.1</text>
<line x1="390.50" y1="374.40" x2="392.50" y2="374.40" stroke="#333" stroke-width="0.9"/>
<text transform="translate(389.20,379.08) scale(1.0,1)" text-anchor="end" font-size="11.2" fill="#000">0.2</text>
<line x1="390.50" y1="332.40" x2="392.50" y2="332.40" stroke="#333" stroke-width="0.9"/>
<text transform="translate(389.20,337.08) scale(1.0,1)" text-anchor="end" font-size="11.2" fill="#000">0.3</text>
<line x1="404.64" y1="552.40" x2="404.64" y2="554.40" stroke="#333" stroke-width="0.9"/>
<text transform="translate(404.64,564.20) scale(1.0,1)" text-anchor="middle" font-size="11.0" fill="#000">−0.2</text>
<line x1="454.12" y1="552.40" x2="454.12" y2="554.40" stroke="#333" stroke-width="0.9"/>
<text transform="translate(454.12,564.20) scale(1.0,1)" text-anchor="middle" font-size="11.0" fill="#000">−0.1</text>
<line x1="503.60" y1="552.40" x2="503.60" y2="554.40" stroke="#333" stroke-width="0.9"/>
<text transform="translate(503.60,564.20) scale(1.0,1)" text-anchor="middle" font-size="11.0" fill="#000">0.0</text>
<line x1="553.08" y1="552.40" x2="553.08" y2="554.40" stroke="#333" stroke-width="0.9"/>
<text transform="translate(553.08,564.20) scale(1.0,1)" text-anchor="middle" font-size="11.0" fill="#000">0.1</text>
<line x1="602.56" y1="552.40" x2="602.56" y2="554.40" stroke="#333" stroke-width="0.9"/>
<text transform="translate(602.56,564.20) scale(1.0,1)" text-anchor="middle" font-size="11.0" fill="#000">0.2</text>
<line x1="652.04" y1="552.40" x2="652.04" y2="554.40" stroke="#333" stroke-width="0.9"/>
<text transform="translate(652.04,564.20) scale(1.0,1)" text-anchor="middle" font-size="11.0" fill="#000">0.3</text>
<text transform="translate(529.60,581.70) scale(1.0,1)" text-anchor="middle" font-size="13.0" fill="#000">Performance Gap (DL – linear)</text>
<text transform="translate(349.00,433.20) rotate(-90) scale(1,1.0)" text-anchor="middle" font-size="13.0" fill="#000">Performance Gap Covariates</text>
<text transform="translate(365.00,432.20) rotate(-90) scale(1,1.0)" text-anchor="middle" font-size="13.0" fill="#000">(non–linear – linear)</text>
</svg>
</body></html>
